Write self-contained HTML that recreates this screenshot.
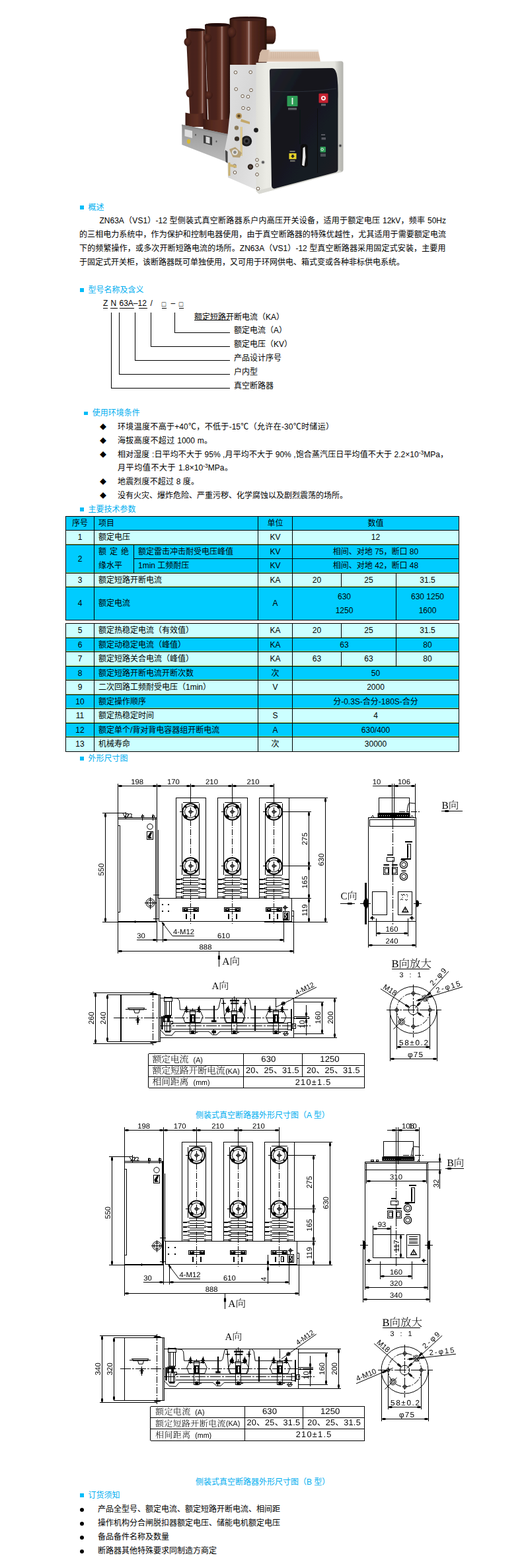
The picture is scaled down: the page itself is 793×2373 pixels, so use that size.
<!DOCTYPE html>
<html lang="zh-CN"><head><meta charset="utf-8"><title>ZN63A（VS1）-12 型侧装式真空断路器</title>
<style>
*{margin:0;padding:0;box-sizing:border-box}
html,body{width:793px;height:2373px;background:#fff;overflow:hidden}
body{position:relative;font-family:"Liberation Sans","Noto Sans CJK SC",sans-serif;font-size:12px;color:#000;line-height:20px}
.t{position:absolute;white-space:nowrap;height:20px;line-height:20px}
.h{color:#00aeef}
.sq{position:absolute;width:5.5px;height:5.5px;background:#00bcf8}
.c{position:absolute;text-align:center;white-space:nowrap}
.cell{position:absolute;border:1px solid #000;white-space:nowrap;overflow:hidden;text-align:center}
.g{box-shadow:inset 0 -1px 0 rgba(150,210,90,.85)}
.b1{background:#00ccff}
.b2{background:#ccffff}
svg{position:absolute;left:0;top:0;overflow:visible}
sup{font-size:8.5px;line-height:0;vertical-align:4.5px}
</style></head>
<body>
<div class="sq" style="left:121.0px;top:311.0px"></div>
<div class="t h" style="left:133.5px;top:303.5px;">概述</div>
<div class="t " style="left:150.5px;top:323.5px;width:524.5px;text-align:justify;text-align-last:justify;">ZN63A（VS1）-12 型侧装式真空断路器系户内高压开关设备，适用于额定电压 12kV，频率 50Hz</div>
<div class="t " style="left:120px;top:344.5px;width:555px;text-align:justify;text-align-last:justify;">的三相电力系统中，作为保护和控制电器使用，由于真空断路器的特殊优越性，尤其适用于需要额定电流</div>
<div class="t " style="left:120px;top:365.5px;width:554.5px;text-align:justify;text-align-last:justify;">下的频繁操作，或多次开断短路电流的场所。ZN63A（VS1）-12 型真空断路器采用固定式安装，主要用</div>
<div class="t " style="left:120px;top:386.5px;">于固定式开关柜，该断路器既可单独使用，又可用于环网供电、箱式变或各种非标供电系统。</div>
<div class="sq" style="left:121.0px;top:436.0px"></div>
<div class="t h" style="left:133.5px;top:428.5px;">型号名称及含义</div>
<div class="sq" style="left:127.2px;top:622.5px"></div>
<div class="t h" style="left:139.7px;top:615px;">使用环境条件</div>
<div class="t " style="left:151px;top:636.8px;font-size:10px">◆</div>
<div class="t " style="left:178px;top:636px;width:327px;text-align:justify;text-align-last:justify;">环境温度不高于+40℃，不低于-15℃（允许在-30℃时储运）</div>
<div class="t " style="left:151px;top:657.8px;font-size:10px">◆</div>
<div class="t " style="left:178px;top:657px;width:143px;text-align:justify;text-align-last:justify;">海拔高度不超过 1000 m。</div>
<div class="t " style="left:151px;top:678.8px;font-size:10px">◆</div>
<div class="t " style="left:178px;top:678px;width:500px;text-align:justify;text-align-last:justify;">相对湿度 :日平均不大于 95% ,月平均不大于 90% ,饱合蒸汽压日平均值不大于 2.2×10<sup>-3</sup>MPa，</div>
<div class="t " style="left:178px;top:698px;width:174px;text-align:justify;text-align-last:justify;">月平均值不大于 1.8×10<sup>-3</sup>MPa。</div>
<div class="t " style="left:151px;top:719.8px;font-size:10px">◆</div>
<div class="t " style="left:178px;top:719px;width:123px;text-align:justify;text-align-last:justify;">地震烈度不超过 8 度。</div>
<div class="t " style="left:151px;top:740.8px;font-size:10px">◆</div>
<div class="t " style="left:178px;top:740px;">没有火灾、爆炸危险、严重污秽、化学腐蚀以及剧烈震荡的场所。</div>
<div class="sq" style="left:121.0px;top:768.0px"></div>
<div class="t h" style="left:133.5px;top:760.5px;">主要技术参数</div>
<div class="sq" style="left:121.0px;top:1145.0px"></div>
<div class="t h" style="left:133.5px;top:1137.5px;">外形尺寸图</div>
<div class="t h" style="left:296px;top:1678px;">侧装式真空断路器外形尺寸图（A 型）</div>
<div class="t h" style="left:296px;top:2233px;">侧装式真空断路器外形尺寸图（B 型）</div>
<div class="sq" style="left:121.0px;top:2260.0px"></div>
<div class="t h" style="left:133.5px;top:2252.5px;">订货须知</div>
<div style="position:absolute;left:121px;top:2281.5px;width:6px;height:6px;border-radius:50%;background:#000"></div>
<div class="t " style="left:148px;top:2274px;">产品全型号、额定电流、额定短路开断电流、相间距</div>
<div style="position:absolute;left:121px;top:2302.5px;width:6px;height:6px;border-radius:50%;background:#000"></div>
<div class="t " style="left:148px;top:2295px;">操作机构分合闸脱扣器额定电压、储能电机额定电压</div>
<div style="position:absolute;left:121px;top:2323.5px;width:6px;height:6px;border-radius:50%;background:#000"></div>
<div class="t " style="left:148px;top:2316px;">备品备件名称及数量</div>
<div style="position:absolute;left:121px;top:2344.5px;width:6px;height:6px;border-radius:50%;background:#000"></div>
<div class="t " style="left:148px;top:2337px;">断路器其他特殊要求同制造方商定</div>
<div class="cell b1" style="left:99px;top:781px;width:44px;height:22px;line-height:20px;">序号</div>
<div class="cell b1" style="left:142px;top:781px;width:249px;height:22px;line-height:20px;text-align:left;padding-left:6px;">项目</div>
<div class="cell b1" style="left:390px;top:781px;width:53px;height:22px;line-height:20px;">单位</div>
<div class="cell b1" style="left:442px;top:781px;width:253px;height:22px;line-height:20px;">数值</div>
<div class="cell b2 g" style="left:99px;top:802px;width:44px;height:23px;line-height:21px;">1</div>
<div class="cell b2 g" style="left:142px;top:802px;width:249px;height:23px;line-height:21px;text-align:left;padding-left:6px;">额定电压</div>
<div class="cell b2 g" style="left:390px;top:802px;width:53px;height:23px;line-height:21px;">KV</div>
<div class="cell b2 g" style="left:442px;top:802px;width:253px;height:23px;line-height:21px;">12</div>
<div class="cell b1 g" style="left:99px;top:824px;width:44px;height:44px;line-height:42px;">2</div>
<div class="cell b1 g" style="left:142px;top:824px;width:61px;height:44px;line-height:42px;text-align:left;padding-left:6px;line-height:21px;"><span style="letter-spacing:5px">额定绝</span><br>缘水平</div>
<div class="cell b1" style="left:202px;top:824px;width:189px;height:22px;line-height:20px;text-align:left;padding-left:6px;">额定雷击冲击耐受电压峰值</div>
<div class="cell b1 g" style="left:202px;top:845px;width:189px;height:23px;line-height:21px;text-align:left;padding-left:6px;">1min 工频耐压</div>
<div class="cell b1" style="left:390px;top:824px;width:53px;height:22px;line-height:20px;">KV</div>
<div class="cell b1 g" style="left:390px;top:845px;width:53px;height:23px;line-height:21px;">KV</div>
<div class="cell b1" style="left:442px;top:824px;width:253px;height:22px;line-height:20px;">相间、对地 75，断口 80</div>
<div class="cell b1 g" style="left:442px;top:845px;width:253px;height:23px;line-height:21px;">相间、对地 42，断口 48</div>
<div class="cell b2 g" style="left:99px;top:867px;width:44px;height:22px;line-height:20px;">3</div>
<div class="cell b2 g" style="left:142px;top:867px;width:249px;height:22px;line-height:20px;text-align:left;padding-left:6px;">额定短路开断电流</div>
<div class="cell b2 g" style="left:390px;top:867px;width:53px;height:22px;line-height:20px;">KA</div>
<div class="cell b2 g" style="left:442px;top:867px;width:75px;height:22px;line-height:20px;">20</div>
<div class="cell b2 g" style="left:516px;top:867px;width:84px;height:22px;line-height:20px;">25</div>
<div class="cell b2 g" style="left:599px;top:867px;width:96px;height:22px;line-height:20px;">31.5</div>
<div class="cell b1" style="left:99px;top:888px;width:44px;height:51px;line-height:49px;">4</div>
<div class="cell b1" style="left:142px;top:888px;width:249px;height:51px;line-height:49px;text-align:left;padding-left:6px;">额定电流</div>
<div class="cell b1" style="left:390px;top:888px;width:53px;height:51px;line-height:49px;">A</div>
<div class="cell b1" style="left:442px;top:888px;width:158px;height:51px;line-height:49px;line-height:21px;padding-top:4px;">630<br>1250</div>
<div class="cell b1" style="left:599px;top:888px;width:96px;height:51px;line-height:49px;line-height:21px;padding-top:4px;">630 1250<br>1600</div>
<div class="cell b2 g" style="left:99px;top:943px;width:44px;height:23px;line-height:21px;">5</div>
<div class="cell b2 g" style="left:142px;top:943px;width:249px;height:23px;line-height:21px;text-align:left;padding-left:6px;">额定热稳定电流（有效值）</div>
<div class="cell b2 g" style="left:390px;top:943px;width:53px;height:23px;line-height:21px;">KA</div>
<div class="cell b2 g" style="left:442px;top:943px;width:75px;height:23px;line-height:21px;">20</div>
<div class="cell b2 g" style="left:516px;top:943px;width:84px;height:23px;line-height:21px;">25</div>
<div class="cell b2 g" style="left:599px;top:943px;width:96px;height:23px;line-height:21px;">31.5</div>
<div class="cell b1 g" style="left:99px;top:965px;width:44px;height:22px;line-height:20px;">6</div>
<div class="cell b1 g" style="left:142px;top:965px;width:249px;height:22px;line-height:20px;text-align:left;padding-left:6px;">额定动稳定电流（峰值）</div>
<div class="cell b1 g" style="left:390px;top:965px;width:53px;height:22px;line-height:20px;">KA</div>
<div class="cell b1 g" style="left:442px;top:965px;width:158px;height:22px;line-height:20px;">63</div>
<div class="cell b1 g" style="left:599px;top:965px;width:96px;height:22px;line-height:20px;">80</div>
<div class="cell b2 g" style="left:99px;top:986px;width:44px;height:23px;line-height:21px;">7</div>
<div class="cell b2 g" style="left:142px;top:986px;width:249px;height:23px;line-height:21px;text-align:left;padding-left:6px;">额定短路关合电流（峰值）</div>
<div class="cell b2 g" style="left:390px;top:986px;width:53px;height:23px;line-height:21px;">KA</div>
<div class="cell b2 g" style="left:442px;top:986px;width:75px;height:23px;line-height:21px;">63</div>
<div class="cell b2 g" style="left:516px;top:986px;width:84px;height:23px;line-height:21px;">63</div>
<div class="cell b2 g" style="left:599px;top:986px;width:96px;height:23px;line-height:21px;">80</div>
<div class="cell b1 g" style="left:99px;top:1008px;width:44px;height:22px;line-height:20px;">8</div>
<div class="cell b1 g" style="left:142px;top:1008px;width:249px;height:22px;line-height:20px;text-align:left;padding-left:6px;">额定短路开断电流开断次数</div>
<div class="cell b1 g" style="left:390px;top:1008px;width:53px;height:22px;line-height:20px;">次</div>
<div class="cell b1 g" style="left:442px;top:1008px;width:253px;height:22px;line-height:20px;">50</div>
<div class="cell b2 g" style="left:99px;top:1029px;width:44px;height:23px;line-height:21px;">9</div>
<div class="cell b2 g" style="left:142px;top:1029px;width:249px;height:23px;line-height:21px;text-align:left;padding-left:6px;">二次回路工频耐受电压（1min）</div>
<div class="cell b2 g" style="left:390px;top:1029px;width:53px;height:23px;line-height:21px;">V</div>
<div class="cell b2 g" style="left:442px;top:1029px;width:253px;height:23px;line-height:21px;">2000</div>
<div class="cell b1 g" style="left:99px;top:1051px;width:44px;height:22px;line-height:20px;">10</div>
<div class="cell b1 g" style="left:142px;top:1051px;width:249px;height:22px;line-height:20px;text-align:left;padding-left:6px;">额定操作顺序</div>
<div class="cell b1 g" style="left:390px;top:1051px;width:53px;height:22px;line-height:20px;"></div>
<div class="cell b1 g" style="left:442px;top:1051px;width:253px;height:22px;line-height:20px;">分-0.3S-合分-180S-合分</div>
<div class="cell b2 g" style="left:99px;top:1072px;width:44px;height:23px;line-height:21px;">11</div>
<div class="cell b2 g" style="left:142px;top:1072px;width:249px;height:23px;line-height:21px;text-align:left;padding-left:6px;">额定热稳定时间</div>
<div class="cell b2 g" style="left:390px;top:1072px;width:53px;height:23px;line-height:21px;">S</div>
<div class="cell b2 g" style="left:442px;top:1072px;width:253px;height:23px;line-height:21px;">4</div>
<div class="cell b1 g" style="left:99px;top:1094px;width:44px;height:22px;line-height:20px;">12</div>
<div class="cell b1 g" style="left:142px;top:1094px;width:249px;height:22px;line-height:20px;text-align:left;padding-left:6px;">额定单个/背对背电容器组开断电流</div>
<div class="cell b1 g" style="left:390px;top:1094px;width:53px;height:22px;line-height:20px;">A</div>
<div class="cell b1 g" style="left:442px;top:1094px;width:253px;height:22px;line-height:20px;">630/400</div>
<div class="cell b2" style="left:99px;top:1115px;width:44px;height:23px;line-height:21px;">13</div>
<div class="cell b2" style="left:142px;top:1115px;width:249px;height:23px;line-height:21px;text-align:left;padding-left:6px;">机械寿命</div>
<div class="cell b2" style="left:390px;top:1115px;width:53px;height:23px;line-height:21px;">次</div>
<div class="cell b2" style="left:442px;top:1115px;width:253px;height:23px;line-height:21px;">30000</div>
<svg width="793" height="2373" viewBox="0 0 793 2373" style="pointer-events:none">
<g fill="none" stroke="#000" stroke-width="1" shape-rendering="crispEdges">
<path d="M156 466.5H163"/>
<path d="M167 466.5H177.5"/>
<path d="M180.5 466.5H203"/>
<path d="M209.5 466.5H222.5"/>
<path d="M244.5 466.5H252"/>
<path d="M270.5 466.5H278"/>
<path d="M168.5 473V587.5H347.5"/>
<path d="M180.5 473V566.5H347.5"/>
<path d="M204.5 473V545.5H347.5"/>
<path d="M228.5 473V524.5H347.5"/>
<path d="M264.5 473V503.5H347.5"/>
<path d="M294 484.5H347.5"/>
</g></svg>
<div class="t" style="left:244.8px;top:449.8px;font-size:10.5px;font-weight:700;">□</div>
<div class="t" style="left:270.8px;top:449.8px;font-size:10.5px;font-weight:700;">□</div>
<div class="t" style="left:156px;top:449px;">Z</div>
<div class="t" style="left:167.5px;top:449px;">N</div>
<div class="t" style="left:180.5px;top:449px;">63A–12</div>
<div class="t" style="left:227.5px;top:449px;">/</div>
<div class="t" style="left:258.5px;top:449px;">–</div>
<div class="t" style="left:294px;top:470px;">额定短路开断电流（KA）</div>
<div class="t" style="left:354px;top:490px;">额定电流（A）</div>
<div class="t" style="left:354px;top:510.5px;">额定电压（KV）</div>
<div class="t" style="left:354px;top:531.5px;">产品设计序号</div>
<div class="t" style="left:354px;top:552.5px;">户内型</div>
<div class="t" style="left:354px;top:573.5px;">真空断路器</div>
<svg width="793" height="2373" viewBox="0 0 793 2373">
<path fill="none" stroke="#000" stroke-width="1" shape-rendering="crispEdges" d="M592.5 1466.5H650M621.5 1503.5H629.5M625.5 1499.3V1507.3M621.5 1553.5H629.5M625.5 1549.7V1557.7M596.3 1528.5H604.3M600.5 1524.5V1532.5M646.7 1528.5H654.7M650.5 1524.5V1532.5M600.5 1531.5V1588.1M650.5 1531.5V1588.1M590.5 1528.5V1605.8M661.5 1528.5V1605.8M600.3 1584.5H650.7M590 1602.5H661M578.5 2009.5H636M608.5 2048.5H616.5M612.5 2044.3V2052.3M608.5 2098.5H616.5M612.5 2094.7V2102.7M583.3 2073.5H591.3M587.5 2069.5V2077.5M633.7 2073.5H641.7M637.5 2069.5V2077.5M587.5 2076.5V2133.3M637.5 2076.5V2133.3M577.5 2073.5V2151M648.5 2073.5V2151M587.3 2129.5H637.7M577 2147.5H648M224.5 1594.5H551.5M224.5 1612.5H551.5M224.5 1629.5H551.5M224.5 1646.5H551.5M224.5 1594.5V1646M551.5 1594.5V1646M368.5 1594.5V1646M457.5 1594.5V1629M227.5 2128.5H552M227.5 2145.5H552M227.5 2162.5H552M227.5 2180.5H552M227.5 2128.5V2180M551.5 2128.5V2180M370.5 2128.5V2180M458.5 2128.5V2162.5M178.5 1185.5V1442.5M237.5 1185.5V1425.5M178.5 1189.5H237.5M237.5 1189.5H288.5M288.5 1189.5H351.5M351.5 1189.5H414.5M288.5 1185.5V1215M351.5 1185.5V1215M414.5 1185.5V1215M266.5 1207.5H311.5V1359.5H266.5ZM276.5 1214.5H300.5M301.5 1215.5V1323.5M300.5 1324.5H276.5M275.5 1323.5V1215.5M271.5 1228.5H277.5M288.5 1221.5V1235.5M284.5 1228.5H292.5M271.5 1310.5H277.5M288.5 1303.5V1317.5M284.5 1310.5H292.5M267 1330.5H273L279 1328.5H298.5L304.5 1330.5H310.5M273 1330.5L279 1332.5H298.5L304.5 1330.5M267 1331.5H273M304.5 1331.5H310.5M267 1337.5H273L279 1335.5H298.5L304.5 1337.5H310.5M273 1337.5L279 1339.5H298.5L304.5 1337.5M267 1338.5H273M304.5 1338.5H310.5M267 1344.5H273L279 1342.5H298.5L304.5 1344.5H310.5M273 1344.5L279 1346.5H298.5L304.5 1344.5M267 1345.5H273M304.5 1345.5H310.5M267 1350.5H273L279 1348.5H298.5L304.5 1350.5H310.5M273 1350.5L279 1352.5H298.5L304.5 1350.5M267 1357.5H273L279 1355.5H298.5L304.5 1357.5H310.5M273 1357.5L279 1359.5H298.5L304.5 1357.5M276.5 1373.5H300.5V1379.5H276.5ZM284.5 1376.5H292.5M329.5 1207.5H374.5V1359.5H329.5ZM339.5 1214.5H363.5M364.5 1215.5V1323.5M363.5 1324.5H339.5M338.5 1323.5V1215.5M334.5 1228.5H340.5M351.5 1221.5V1235.5M347.5 1228.5H355.5M334.5 1310.5H340.5M351.5 1303.5V1317.5M347.5 1310.5H355.5M330 1330.5H336L342 1328.5H361.5L367.5 1330.5H373.5M336 1330.5L342 1332.5H361.5L367.5 1330.5M330 1331.5H336M367.5 1331.5H373.5M330 1337.5H336L342 1335.5H361.5L367.5 1337.5H373.5M336 1337.5L342 1339.5H361.5L367.5 1337.5M330 1338.5H336M367.5 1338.5H373.5M330 1344.5H336L342 1342.5H361.5L367.5 1344.5H373.5M336 1344.5L342 1346.5H361.5L367.5 1344.5M330 1345.5H336M367.5 1345.5H373.5M330 1350.5H336L342 1348.5H361.5L367.5 1350.5H373.5M336 1350.5L342 1352.5H361.5L367.5 1350.5M330 1357.5H336L342 1355.5H361.5L367.5 1357.5H373.5M336 1357.5L342 1359.5H361.5L367.5 1357.5M339.5 1373.5H363.5V1379.5H339.5ZM347.5 1376.5H355.5M392.5 1207.5H437.5V1359.5H392.5ZM402.5 1214.5H426.5M427.5 1215.5V1323.5M426.5 1324.5H402.5M401.5 1323.5V1215.5M397.5 1228.5H403.5M414.5 1221.5V1235.5M410.5 1228.5H418.5M397.5 1310.5H403.5M414.5 1303.5V1317.5M410.5 1310.5H418.5M393 1330.5H399L405 1328.5H424.5L430.5 1330.5H436.5M399 1330.5L405 1332.5H424.5L430.5 1330.5M393 1331.5H399M430.5 1331.5H436.5M393 1337.5H399L405 1335.5H424.5L430.5 1337.5H436.5M399 1337.5L405 1339.5H424.5L430.5 1337.5M393 1338.5H399M430.5 1338.5H436.5M393 1344.5H399L405 1342.5H424.5L430.5 1344.5H436.5M399 1344.5L405 1346.5H424.5L430.5 1344.5M393 1345.5H399M430.5 1345.5H436.5M393 1350.5H399L405 1348.5H424.5L430.5 1350.5H436.5M399 1350.5L405 1352.5H424.5L430.5 1350.5M393 1357.5H399L405 1355.5H424.5L430.5 1357.5H436.5M399 1357.5L405 1359.5H424.5L430.5 1357.5M402.5 1373.5H426.5V1379.5H402.5ZM410.5 1376.5H418.5M178.5 1237.5H237.5M178.5 1239.5H237.5M155 1230.5H190.5M181.5 1249.5V1380.5M178.5 1249.5H181.5M178.5 1380.5H181.5M235.5 1238V1395M239.5 1256V1360M222.5 1258.5H231.5V1270.5H222.5ZM215.5 1232V1241.5M214.5 1234.5H217.5V1237.5H214.5ZM231.5 1232V1241.5M230.5 1234.5H233.5V1237.5H230.5ZM190.5 1228.5V1239M155 1395.5H238M178 1394.5H238M400 1395.5H496M204.5 1393V1397M218.5 1366.5H236.5M227.5 1357.5V1375.5M232 1354.5H241M232 1390.5H241M240.5 1359.5H441.5V1394.5H240.5ZM245.5 1368.5H246.5V1369.5H245.5ZM254.5 1368.5H255.5V1369.5H254.5ZM245.5 1378.5H246.5V1379.5H245.5ZM254.5 1378.5H255.5V1379.5H254.5ZM428.5 1379.5H437.5V1392.5H428.5ZM428 1373.5H436M431.5 1370V1379M441.5 1378.5H444.5V1386.5H441.5ZM444.5 1378V1442.5M438 1207.5H496M427 1228.5H470.5M427 1310.5H470.5M441.5 1359.5H470.5M467.5 1228.5V1310.5M467.5 1310.5V1359.5M467.5 1359.5V1395.5M492.5 1207.5V1395.5M159.5 1230.5V1395.5M246.5 1395.5V1425.5M429.5 1390V1425.5M207 1422.5H429.5M178.5 1439.5H444.8M261 1416.5H294M331.5 1439.5V1463M162.5 1505.5H242.5V1576.5H162.5ZM240.5 1505.5V1576M182.5 1505.5V1576M183.5 1505.5V1576M140.5 1502.5H231.5M140.5 1579.5H231.5M144.5 1502.5V1579M162.5 1505.5V1576M192.5 1525.5H218.5M192.5 1527.5H218.5M189.5 1527.5H221.5M208.5 1537V1551M207.5 1540.5H209.5V1547.5H207.5ZM205 1543.5H211.5M242.5 1510.5H509.5M242.5 1570.5H509.5M444.5 1510V1570.5M259.5 1548.5H436M259.5 1557.5H436M248.5 1509.5H260.5V1515.5H248.5ZM249.5 1515.5H259.5V1536.5H249.5ZM251.5 1515V1536M256.5 1515V1536M249.5 1545.5H258.5V1560.5H249.5ZM252.5 1547V1560M256.5 1547V1560M258.5 1545.5H261.5V1549.5H258.5ZM287.5 1529.5H295.5V1564.5H287.5ZM291.5 1525.5V1529.5M279 1527.5H285M279 1530.5H285M282.5 1521.5V1532.5M298 1527.5H304M298 1530.5H304M301.5 1521.5V1532.5M295 1562.5H298.5M350.5 1529.5H358.5V1564.5H350.5ZM354.5 1525.5V1529.5M342 1527.5H348M342 1530.5H348M345.5 1521.5V1532.5M361 1527.5H367M361 1530.5H367M364.5 1521.5V1532.5M358 1562.5H361.5M413.5 1529.5H421.5V1564.5H413.5ZM417.5 1525.5V1529.5M405 1527.5H411M405 1530.5H411M408.5 1521.5V1532.5M424 1527.5H430M424 1530.5H430M427.5 1521.5V1532.5M421 1562.5H424.5M335 1518.5H342M338.5 1514V1523M367 1518.5H374M370.5 1514V1523M351.5 1511V1530M357.5 1511V1530M354.5 1507.5V1513M323.5 1557V1566M417.5 1510V1525M435.5 1547.5H440.5V1558.5H435.5ZM442.5 1549.5H447.5V1556.5H442.5ZM428 1564.5H437M506.5 1510V1570.5M444.8 1516.5H490M444.8 1564.5H490M487.5 1516.5V1564M463.5 1520.5V1567M444.8 1538.5H467.5M444.8 1541.5H467.5M172.5 2024.5H248.5V2119.5H172.5ZM246.5 2024.5V2119M188.5 2024.5V2119M150.5 2021.5H237.5M150.5 2122.5H237.5M154.5 2021.5V2122M172.5 2024.5V2119M198.5 2056.5H224.5M198.5 2058.5H224.5M195.5 2058.5H227.5M214.5 2068.3V2082.3M213.5 2071.5H215.5V2078.5H213.5ZM211 2074.5H217.5M248.5 2041.5H515.7M248.5 2101.5H515.7M451.5 2041.3V2101.8M265.7 2079.5H442.2M265.7 2088.5H442.2M254.5 2040.5H266.5V2046.5H254.5ZM255.5 2046.5H265.5V2067.5H255.5ZM257.5 2046.3V2067.3M262.5 2046.3V2067.3M255.5 2076.5H264.5V2091.5H255.5ZM258.5 2078.3V2091.3M262.5 2078.3V2091.3M264.5 2076.5H267.5V2080.5H264.5ZM293.5 2060.5H301.5V2095.5H293.5ZM297.5 2056.8V2060.8M285.2 2058.5H291.2M285.2 2061.5H291.2M288.5 2052.8V2063.8M304.2 2058.5H310.2M304.2 2061.5H310.2M307.5 2052.8V2063.8M301.2 2093.5H304.7M356.5 2060.5H364.5V2095.5H356.5ZM360.5 2056.8V2060.8M348.2 2058.5H354.2M348.2 2061.5H354.2M351.5 2052.8V2063.8M367.2 2058.5H373.2M367.2 2061.5H373.2M370.5 2052.8V2063.8M364.2 2093.5H367.7M419.5 2060.5H427.5V2095.5H419.5ZM423.5 2056.8V2060.8M411.2 2058.5H417.2M411.2 2061.5H417.2M414.5 2052.8V2063.8M430.2 2058.5H436.2M430.2 2061.5H436.2M433.5 2052.8V2063.8M427.2 2093.5H430.7M341.2 2049.5H348.2M344.5 2045.3V2054.3M373.2 2049.5H380.2M376.5 2045.3V2054.3M357.5 2042.3V2061.3M363.5 2042.3V2061.3M360.5 2038.8V2044.3M329.5 2088.3V2097.3M423.5 2041.3V2056.3M441.5 2078.5H446.5V2089.5H441.5ZM448.5 2080.5H453.5V2087.5H448.5ZM434 2095.5H443M512.5 2041.3V2101.8M451 2047.5H496.2M451 2095.5H496.2M493.5 2047.8V2095.3M469.5 2051.8V2098.3M451 2069.5H473.7M451 2072.5H473.7M564 1189.5H628.5M593.5 1185.5V1241M596.5 1185.5V1241M628.5 1185.5V1238M573.5 1207.5H619.5V1230.5H573.5ZM557.5 1237.5H629.5V1394.5H557.5ZM557.5 1394V1433.5M629.5 1394V1433.5M559.5 1240.5H627.5V1250.5H559.5ZM616.5 1277.5H621.5V1300.5H616.5ZM617.5 1279V1298M585.5 1297.5H596.5V1303.5H585.5ZM580.5 1312.5H588.5V1323.5H580.5ZM582.5 1314.5H587.5V1321.5H582.5ZM593.5 1312.5H601.5V1323.5H593.5ZM594.5 1314.5H599.5V1321.5H594.5ZM563.5 1349.5H585.5V1384.5H563.5ZM602.5 1349.5H623.5V1384.5H602.5ZM560 1389.5H566.5M563.5 1386V1392.5M620 1389.5H626.5M623.5 1386V1392.5M552.5 1336.5H554.5V1398.5H552.5ZM553.5 1336.5V1398.5M545 1367.5H561M626 1367.5H638M569.5 1390V1417M617.5 1390V1417M569.5 1412.5H617.5M557.5 1430.5H629.5M515 1367.5H537M667.5 1227.5H699.5M585.5 1710.5H634.5M599.5 1705.5V1762M602.5 1705.5V1762M634.5 1705.5V1758M580.5 1727.5H625.5V1750.5H580.5ZM561.5 1755.5H565.5V1757.5H561.5ZM569.5 1755.5H572.5V1757.5H569.5ZM552.5 1758.5H668M552.5 1760.5H648M552.5 1770.5H668M552.5 1758V1913.5M554.5 1760V1790.5M647.5 1758V1913.5M645.5 1760V1790.5M552.5 1913.5H648M554.5 1787.5H645.5M665.5 1746V1798.5M673.5 1768.5H701.5M622.5 1797.5H627.5V1820.5H622.5ZM623.5 1799V1818M591.5 1817.5H602.5V1823.5H591.5ZM586.5 1832.5H594.5V1843.5H586.5ZM588.5 1834.5H593.5V1841.5H588.5ZM599.5 1832.5H607.5V1843.5H599.5ZM600.5 1834.5H605.5V1841.5H600.5ZM564.5 1868.5H591.5V1903.5H564.5ZM564.5 1855V1868M591.5 1855V1868M564.5 1859.5H591.5M591.5 1868.5H612M591.5 1903.5H612M606.5 1868.5V1903M615.5 1868.5H635.5V1903.5H615.5ZM619 1871.5H632M619 1874.5H632M619 1876.5H632M619 1879.5H632M619 1881.5H632M617 1884.5H634M555 1907.5H561.5M558.5 1904.5V1911M638 1907.5H644.5M641.5 1904.5V1911M549.5 1877V1970.5M650.5 1877V1970.5M545 1884.5H557M643 1884.5H655M575.5 1909V1935.5M623.5 1909V1935.5M575.5 1931.5H623.5M552.5 1913V1952M647.5 1913V1952M552.5 1948.5H647.5M549.5 1966.5H650.5M188.5 1706.1V1960.84M247.5 1706.1V1943.96M188.5 1710.5H247.5M247.5 1710.5H297.96M297.96 1710.5H360.29M360.29 1710.5H422.62M297.5 1706.1V1735.04M360.5 1706.1V1735.04M422.5 1706.1V1735.04M275.5 1728.5H320.5V1878.5H275.5ZM285.5 1734.5H310.5M311.5 1735.5V1842.5M310.5 1843.5H285.5M284.5 1842.5V1735.5M280.5 1748.5H286.5M297.5 1741.5V1755.5M293.5 1748.5H301.5M280.5 1829.5H286.5M297.5 1822.5V1836.5M293.5 1829.5H301.5M276.69 1849.5H282.69L288.69 1847.5H307.73L313.73 1849.5H319.73M282.69 1849.5L288.69 1851.5H307.73L313.73 1849.5M276.69 1850.5H282.69M313.73 1850.5H319.73M276.69 1856.5H282.69L288.69 1854.5H307.73L313.73 1856.5H319.73M282.69 1856.5L288.69 1858.5H307.73L313.73 1856.5M276.69 1857.5H282.69M313.73 1857.5H319.73M276.69 1863.5H282.69L288.69 1861.5H307.73L313.73 1863.5H319.73M282.69 1863.5L288.69 1865.5H307.73L313.73 1863.5M276.69 1864.5H282.69M313.73 1864.5H319.73M276.69 1869.5H282.69L288.69 1867.5H307.73L313.73 1869.5H319.73M282.69 1869.5L288.69 1871.5H307.73L313.73 1869.5M276.69 1876.5H282.69L288.69 1874.5H307.73L313.73 1876.5H319.73M282.69 1876.5L288.69 1878.5H307.73L313.73 1876.5M285.5 1892.5H309.5V1898.5H285.5ZM293.96 1895.5H301.96M338.5 1728.5H382.5V1878.5H338.5ZM348.5 1734.5H372.5M373.5 1735.5V1842.5M372.5 1843.5H348.5M347.5 1842.5V1735.5M343.5 1748.5H349.5M360.5 1741.5V1755.5M356.5 1748.5H364.5M343.5 1829.5H349.5M360.5 1822.5V1836.5M356.5 1829.5H364.5M339.02 1849.5H345.02L351.02 1847.5H370.06L376.06 1849.5H382.06M345.02 1849.5L351.02 1851.5H370.06L376.06 1849.5M339.02 1850.5H345.02M376.06 1850.5H382.06M339.02 1856.5H345.02L351.02 1854.5H370.06L376.06 1856.5H382.06M345.02 1856.5L351.02 1858.5H370.06L376.06 1856.5M339.02 1857.5H345.02M376.06 1857.5H382.06M339.02 1863.5H345.02L351.02 1861.5H370.06L376.06 1863.5H382.06M345.02 1863.5L351.02 1865.5H370.06L376.06 1863.5M339.02 1864.5H345.02M376.06 1864.5H382.06M339.02 1869.5H345.02L351.02 1867.5H370.06L376.06 1869.5H382.06M345.02 1869.5L351.02 1871.5H370.06L376.06 1869.5M339.02 1876.5H345.02L351.02 1874.5H370.06L376.06 1876.5H382.06M345.02 1876.5L351.02 1878.5H370.06L376.06 1876.5M348.5 1892.5H372.5V1898.5H348.5ZM356.29 1895.5H364.29M400.5 1728.5H445.5V1878.5H400.5ZM410.5 1734.5H434.5M435.5 1735.5V1842.5M434.5 1843.5H410.5M409.5 1842.5V1735.5M405.5 1748.5H411.5M422.5 1741.5V1755.5M418.5 1748.5H426.5M405.5 1829.5H411.5M422.5 1822.5V1836.5M418.5 1829.5H426.5M401.35 1849.5H407.35L413.35 1847.5H432.39L438.39 1849.5H444.39M407.35 1849.5L413.35 1851.5H432.39L438.39 1849.5M401.35 1850.5H407.35M438.39 1850.5H444.39M401.35 1856.5H407.35L413.35 1854.5H432.39L438.39 1856.5H444.39M407.35 1856.5L413.35 1858.5H432.39L438.39 1856.5M401.35 1857.5H407.35M438.39 1857.5H444.39M401.35 1863.5H407.35L413.35 1861.5H432.39L438.39 1863.5H444.39M407.35 1863.5L413.35 1865.5H432.39L438.39 1863.5M401.35 1864.5H407.35M438.39 1864.5H444.39M401.35 1869.5H407.35L413.35 1867.5H432.39L438.39 1869.5H444.39M407.35 1869.5L413.35 1871.5H432.39L438.39 1869.5M401.35 1876.5H407.35L413.35 1874.5H432.39L438.39 1876.5H444.39M407.35 1876.5L413.35 1878.5H432.39L438.39 1876.5M410.5 1892.5H434.5V1898.5H410.5ZM418.62 1895.5H426.62M188.5 1757.5H247.5M188.5 1759.5H247.5M165 1750.5H200.5M191.5 1769.28V1899.3M188.5 1769.5H191.5M188.5 1899.5H191.5M245.5 1757.87V1913.69M246.5 1757.87V1911.71M249.5 1775.74V1878.96M232.5 1778.5H241.5V1790.5H232.5ZM225.5 1751.92V1761.34M224.5 1753.5H227.5V1756.5H224.5ZM241.5 1751.92V1761.34M240.5 1753.5H243.5V1756.5H240.5ZM200.5 1748.44V1758.86M165 1914.5H247.99M188 1913.5H247.99M408.28 1914.5H503.26M214.5 1911.71V1915.68M228.5 1885.5H246.5M237.5 1876.5V1894.5M242 1873.5H250.96M242 1909.5H250.96M250.5 1878.5H449.5V1913.5H250.5ZM254.5 1887.5H255.5V1888.5H254.5ZM264.5 1887.5H265.5V1888.5H264.5ZM254.5 1897.5H255.5V1898.5H254.5ZM264.5 1897.5H265.5V1898.5H264.5ZM435.5 1898.5H444.5V1910.5H435.5ZM435.94 1892.5H443.94M439.5 1888.88V1897.81M449.5 1896.5H452.5V1904.5H449.5ZM452.5 1896.82V1960.84M445.87 1728.5H503.26M434.99 1748.5H478.03M434.99 1829.5H478.03M449.34 1878.5H478.03M474.5 1748.44V1829.83M474.5 1829.83V1878.46M474.5 1878.46V1914.19M499.5 1728.1V1914.19M169.5 1750.43V1914.19M256.5 1914.19V1943.96M437.5 1908.73V1943.96M217 1940.5H437.46M188.5 1957.5H452.6M270.75 1935.5H303.4M340.5 1957.86V1981.18M405.5 1898.81V1943.47M425.5 1901.5H428.5V1909.5H425.5Z"/>
<path fill="none" stroke="#000" stroke-width="2" shape-rendering="crispEdges" d="M282 1383V1391M294 1383V1391M346 1383V1391M358 1383V1391M408 1383V1391M420 1383V1391M324 1521.5V1545M386 1521.5V1559.5M441 1527V1560M330 2052.8V2076.3M392 2052.8V2090.8M447 2058.3V2091.3M292 1901.78V1909.72M304 1901.78V1909.72M354 1901.78V1909.72M366 1901.78V1909.72M417 1901.78V1909.72M429 1901.78V1909.72"/>
<path fill="none" stroke="#000" stroke-width="1" d="M595.5 1557.5 L613.5 1540M576 1496.5 L619.45 1524.59M631.55 1532.41 L641.46 1538.82M628.2 1525.55 L679 1470M629.92 1514.74 L700 1493.5M582.5 2102.5 L600.5 2085M566.3 2033.4 L607.06 2068.78M617.94 2078.22 L626.85 2085.95M615.44 2070.79 L669.2 2021.3M616.4 2057.19 L690 2049.2M539 2094 L594.66 2070.37M186 1231l3 5.5l2.5-5l3 0l-2 5l3.5-5l3.5 0.5l-1.5 5.5M187 1237h14M245 1395.5 L261 1416.5M195 1525.5v2.5h23v-2.5M202.5 1528l1.5 5h6l1.5-5M262 1510.5L269 1511L271.5 1514.5L272.5 1528L329 1528L331 1525L334 1511.5L338 1510.5M375 1510.5L378 1514L380 1528L436 1528M243 1559L250 1566.5L260 1567L265 1561L316 1561L321.5 1566L328 1566L333 1561L436 1561M280 1531L303.5 1531L307 1538.5L303.5 1547.5L280 1547.5L276.5 1538.5ZM343 1531L366.5 1531L370 1538.5L366.5 1547.5L343 1547.5L339.5 1538.5ZM406 1531L429.5 1531L433 1538.5L429.5 1547.5L406 1547.5L402.5 1538.5ZM337.5 1510.5L340 1544L342.5 1548M372 1510.5L369.5 1544L367 1548M430.5 1567.5 L435 1561M417 1524.5 L479 1494M201 2056.8v2.5h23v-2.5M208.5 2059.3l1.5 5h6l1.5-5M268.2 2041.8L275.2 2042.3L277.7 2045.8L278.7 2059.3L335.2 2059.3L337.2 2056.3L340.2 2042.8L344.2 2041.8M381.2 2041.8L384.2 2045.3L386.2 2059.3L442.2 2059.3M249.2 2090.3L256.2 2097.8L266.2 2098.3L271.2 2092.3L322.2 2092.3L327.7 2097.3L334.2 2097.3L339.2 2092.3L442.2 2092.3M286.2 2062.3L309.7 2062.3L313.2 2069.8L309.7 2078.8L286.2 2078.8L282.7 2069.8ZM349.2 2062.3L372.7 2062.3L376.2 2069.8L372.7 2078.8L349.2 2078.8L345.7 2069.8ZM412.2 2062.3L435.7 2062.3L439.2 2069.8L435.7 2078.8L412.2 2078.8L408.7 2069.8ZM343.7 2041.8L346.2 2075.3L348.7 2079.3M378.2 2041.8L375.7 2075.3L373.2 2079.3M436.5 2098.5 L441 2092M425.8 2056.7 L478.7 2019M616 1228.5Q617 1216.5 619.5 1215L628.5 1216M562 1237 L564 1234 L566 1237M621.5 1237 L623.5 1234 L625.5 1237M607 1353l2 2.5l2-2.5l2 2.5M615 1353l2 2.5M606 1362l2-1.5l2 1.5M613 1361l2 1.5l2-1.5M609 1358h1M616 1357h1M622.8 1748.5Q623.8 1736.5 626.3 1735L635.3 1736M632 1758 L633.5 1755 L635 1758M196 1750.92l3 5.5l2.5-5l3 0l-2 5l3.5-5l3.5 0.5l-1.5 5.5M197 1756.92h14M254.92 1914.19 L270.75 1935.03"/>
<path fill="#000" d="M619.45 1524.59L616.96 1524.77L612.76 1522.05L614.39 1519.53L618.59 1522.25ZM631.55 1532.41L634.04 1532.23L638.24 1534.95L636.61 1537.47L632.41 1534.75ZM646.69 1506.99L646.94 1504.5L650.31 1500.81L652.52 1502.84L649.15 1506.53ZM630.9 1522.6L631.14 1520.11L634.52 1516.42L636.73 1518.44L633.36 1522.13ZM647.72 1509.35L649.2 1507.33L653.99 1505.88L654.86 1508.75L650.07 1510.2ZM638.92 1512.02L637.44 1514.03L632.65 1515.48L631.78 1512.61L636.57 1511.16ZM600.5 1584.5L602.5 1583L606.5 1583L606.5 1586L602.5 1586ZM650.5 1584.5L648.5 1586L644.5 1586L644.5 1583L648.5 1583ZM590.5 1602.5L592.5 1601L596.5 1601L596.5 1604L592.5 1604ZM661.5 1602.5L659.5 1604L655.5 1604L655.5 1601L659.5 1601ZM607.06 2068.78L604.57 2068.6L600.79 2065.32L602.76 2063.06L606.54 2066.34ZM617.94 2078.22L620.43 2078.4L624.21 2081.68L622.24 2083.94L618.46 2080.66ZM634 2052.29L634.45 2049.84L638.13 2046.45L640.16 2048.66L636.48 2052.04ZM618.39 2068.08L618.84 2065.62L622.52 2062.24L624.55 2064.44L620.87 2067.83ZM634.89 2055.18L636.72 2053.48L641.69 2052.94L642.01 2055.92L637.04 2056.46ZM625.75 2056.18L623.92 2057.88L618.95 2058.42L618.62 2055.44L623.6 2054.9ZM585 2074.48L583.74 2076.64L579.14 2078.59L577.97 2075.83L582.57 2073.88ZM587.5 2129.5L589.5 2128L593.5 2128L593.5 2131L589.5 2131ZM637.5 2129.5L635.5 2131L631.5 2131L631.5 2128L635.5 2128ZM577.5 2147.5L579.5 2146L583.5 2146L583.5 2149L579.5 2149ZM648.5 2147.5L646.5 2149L642.5 2149L642.5 2146L646.5 2146ZM178.5 1189.5L180.5 1188L184.5 1188L184.5 1191L180.5 1191ZM237.5 1189.5L235.5 1191L231.5 1191L231.5 1188L235.5 1188ZM237.5 1189.5L239.5 1188L243.5 1188L243.5 1191L239.5 1191ZM288.5 1189.5L286.5 1191L282.5 1191L282.5 1188L286.5 1188ZM288.5 1189.5L290.5 1188L294.5 1188L294.5 1191L290.5 1191ZM351.5 1189.5L349.5 1191L345.5 1191L345.5 1188L349.5 1188ZM351.5 1189.5L353.5 1188L357.5 1188L357.5 1191L353.5 1191ZM414.5 1189.5L412.5 1191L408.5 1191L408.5 1188L412.5 1188ZM277.5 1374.5H284.5V1379.5H277.5ZM292.5 1374.5H299.5V1379.5H292.5ZM340.5 1374.5H347.5V1379.5H340.5ZM355.5 1374.5H362.5V1379.5H355.5ZM403.5 1374.5H410.5V1379.5H403.5ZM418.5 1374.5H425.5V1379.5H418.5ZM223.5 1265.5L227.5 1259.5L230.5 1259.5L227.5 1266.5L230.5 1268.5L224.5 1269.5ZM430 1381H436V1392H430ZM467.5 1228.5L469 1230.5L469 1234.5L466 1234.5L466 1230.5ZM467.5 1310.5L466 1308.5L466 1304.5L469 1304.5L469 1308.5ZM467.5 1310.5L469 1312.5L469 1316.5L466 1316.5L466 1312.5ZM467.5 1359.5L466 1357.5L466 1353.5L469 1353.5L469 1357.5ZM467.5 1359.5L469 1361.5L469 1365.5L466 1365.5L466 1361.5ZM467.5 1395.5L466 1393.5L466 1389.5L469 1389.5L469 1393.5ZM492.5 1207.5L494 1209.5L494 1213.5L491 1213.5L491 1209.5ZM492.5 1395.5L491 1393.5L491 1389.5L494 1389.5L494 1393.5ZM159.5 1230.5L161 1232.5L161 1236.5L158 1236.5L158 1232.5ZM159.5 1395.5L158 1393.5L158 1389.5L161 1389.5L161 1393.5ZM237.5 1422.5L235.5 1424L231.5 1424L231.5 1421L235.5 1421ZM246.5 1422.5L248.5 1421L252.5 1421L252.5 1424L248.5 1424ZM429.5 1422.5L427.5 1424L423.5 1424L423.5 1421L427.5 1421ZM178.5 1439.5L180.5 1438L184.5 1438L184.5 1441L180.5 1441ZM444.5 1439.5L442.5 1441L438.5 1441L438.5 1438L442.5 1438ZM245 1395.5L247.25 1396.3L249.67 1399.48L247.6 1401.06L245.18 1397.88ZM331.5 1445L333.1 1447L333.1 1452L329.9 1452L329.9 1447ZM144.5 1502.5L146 1504.5L146 1508.5L143 1508.5L143 1504.5ZM144.5 1579.5L143 1577.5L143 1573.5L146 1573.5L146 1577.5ZM162.5 1505.5L164 1507.5L164 1511.5L161 1511.5L161 1507.5ZM162.5 1576.5L161 1574.5L161 1570.5L164 1570.5L164 1574.5ZM225.5 1505.5L228.5 1503H235.5L239.5 1505.5ZM225.5 1576L228.5 1578.5H235.5L239.5 1576ZM248 1508.5H250.5V1511H248ZM257.5 1508.5H260V1511H257.5ZM244 1538H246.5V1558H244ZM247 1537H259V1541H247ZM247 1541H249.5V1547H247ZM253 1541H257V1547H253ZM250 1560H258V1562.5H250ZM287.5 1535H295.5V1547.5H287.5ZM289 1559.5H294V1565H289ZM280.5 1524H283.5V1531H280.5ZM299.5 1524H302.5V1531H299.5ZM350.5 1535H358.5V1547.5H350.5ZM352 1559.5H357V1565H352ZM343.5 1524H346.5V1531H343.5ZM362.5 1524H365.5V1531H362.5ZM413.5 1535H421.5V1547.5H413.5ZM415 1559.5H420V1565H415ZM406.5 1524H409.5V1531H406.5ZM425.5 1524H428.5V1531H425.5ZM348 1513H362V1515.5H348ZM349 1517.5H361V1519.5H349ZM320 1544H327.5V1547H320ZM320.5 1559.5H327V1563.5H320.5ZM506.5 1510.5L508 1512.5L508 1516.5L505 1516.5L505 1512.5ZM506.5 1570.5L505 1568.5L505 1564.5L508 1564.5L508 1568.5ZM487.5 1516.5L489 1518.5L489 1522.5L486 1522.5L486 1518.5ZM487.5 1564.5L486 1562.5L486 1558.5L489 1558.5L489 1562.5ZM463.5 1538.5L462 1536.5L462 1532.5L465 1532.5L465 1536.5ZM463.5 1542L465 1544L465 1548L462 1548L462 1544ZM425.08 1520.53L426.21 1518.3L430.69 1516.09L432.02 1518.78L427.53 1520.99ZM154.5 2021.5L156 2023.5L156 2027.5L153 2027.5L153 2023.5ZM154.5 2122.5L153 2120.5L153 2116.5L156 2116.5L156 2120.5ZM172.5 2024.5L174 2026.5L174 2030.5L171 2030.5L171 2026.5ZM172.5 2119.5L171 2117.5L171 2113.5L174 2113.5L174 2117.5ZM231.5 2024.5L234.5 2022H241.5L245.5 2024.5ZM231.5 2119L234.5 2121.5H241.5L245.5 2119ZM254.2 2039.8H256.7V2042.3H254.2ZM263.7 2039.8H266.2V2042.3H263.7ZM250.2 2069.3H252.7V2089.3H250.2ZM253.2 2068.3H265.2V2072.3H253.2ZM253.2 2072.3H255.7V2078.3H253.2ZM259.2 2072.3H263.2V2078.3H259.2ZM256.2 2091.3H264.2V2093.8H256.2ZM293.7 2066.3H301.7V2078.8H293.7ZM295.2 2090.8H300.2V2096.3H295.2ZM286.7 2055.3H289.7V2062.3H286.7ZM305.7 2055.3H308.7V2062.3H305.7ZM356.7 2066.3H364.7V2078.8H356.7ZM358.2 2090.8H363.2V2096.3H358.2ZM349.7 2055.3H352.7V2062.3H349.7ZM368.7 2055.3H371.7V2062.3H368.7ZM419.7 2066.3H427.7V2078.8H419.7ZM421.2 2090.8H426.2V2096.3H421.2ZM412.7 2055.3H415.7V2062.3H412.7ZM431.7 2055.3H434.7V2062.3H431.7ZM354.2 2044.3H368.2V2046.8H354.2ZM355.2 2048.8H367.2V2050.8H355.2ZM326.2 2075.3H333.7V2078.3H326.2ZM326.7 2090.8H333.2V2094.8H326.7ZM512.5 2041.5L514 2043.5L514 2047.5L511 2047.5L511 2043.5ZM512.5 2101.5L511 2099.5L511 2095.5L514 2095.5L514 2099.5ZM493.5 2047.5L495 2049.5L495 2053.5L492 2053.5L492 2049.5ZM493.5 2095.5L492 2093.5L492 2089.5L495 2089.5L495 2093.5ZM469.5 2069.5L468 2067.5L468 2063.5L471 2063.5L471 2067.5ZM469.5 2073L471 2075L471 2079L468 2079L468 2075ZM433.13 2051.48L433.89 2049.09L437.96 2046.19L439.7 2048.64L435.63 2051.54ZM593.5 1189.5L591.5 1191L587.5 1191L587.5 1188L591.5 1188ZM596.5 1189.5L598.5 1188L602.5 1188L602.5 1191L598.5 1191ZM628.5 1189.5L626.5 1191L622.5 1191L622.5 1188L626.5 1188ZM571.5 1230.5H620.5V1237H571.5ZM613 1273H624V1275H613ZM607 1299H622V1301H607ZM586 1293H594V1294.8H586ZM580.5 1308H589V1310H580.5ZM593 1308H601.5V1310H593ZM606.5 1300.3H613.5V1302H606.5ZM607.5 1317.2H614.5V1318.8H607.5ZM613.25 1371.5L618.75 1381L607.75 1381ZM551 1362L555 1358.5L557.5 1363V1371L555 1375.5L551 1372L549.5 1367ZM630 1362.5H632.5L634 1365V1370L632.5 1372.5H630ZM569.5 1412.5L571.5 1411L575.5 1411L575.5 1414L571.5 1414ZM617.5 1412.5L615.5 1414L611.5 1414L611.5 1411L615.5 1411ZM557.5 1430.5L559.5 1429L563.5 1429L563.5 1432L559.5 1432ZM629.5 1430.5L627.5 1432L623.5 1432L623.5 1429L627.5 1429ZM534 1367.5L532 1369L526 1369L526 1366L532 1366ZM672 1227.5L674 1226L679 1226L679 1229L674 1229ZM599.5 1710.5L597.5 1712L593.5 1712L593.5 1709L597.5 1709ZM602.5 1710.5L604.5 1709L608.5 1709L608.5 1712L604.5 1712ZM634.5 1710.5L632.5 1712L628.5 1712L628.5 1709L632.5 1709ZM578.3 1750.5H627.3V1757H578.3ZM554.5 1787.5L556.5 1786L560.5 1786L560.5 1789L556.5 1789ZM645.5 1787.5L643.5 1789L639.5 1789L639.5 1786L643.5 1786ZM665.5 1758.5L664 1756.5L664 1752.5L667 1752.5L667 1756.5ZM665.5 1770.5L667 1772.5L667 1776.5L664 1776.5L664 1772.5ZM676 1768.5L678 1767L683 1767L683 1770L678 1770ZM619 1793H630V1795H619ZM613 1819H628V1821H613ZM592 1813H600V1814.8H592ZM586.5 1828H595V1830H586.5ZM599 1828H607.5V1830H599ZM612.5 1820.3H619.5V1822H612.5ZM613.5 1837.2H620.5V1838.8H613.5ZM586 1828.3H606V1830H586ZM564.5 1859.5L566.5 1858L570.5 1858L570.5 1861L566.5 1861ZM591.5 1859.5L589.5 1861L585.5 1861L585.5 1858L589.5 1858ZM606.5 1868.5L608 1870.5L608 1874.5L605 1874.5L605 1870.5ZM606.5 1903.5L605 1901.5L605 1897.5L608 1897.5L608 1901.5ZM626 1890L631.5 1899.5L620.5 1899.5ZM549 1879.5L551.5 1877.5L553.5 1880V1889L551.5 1891L549 1889.5ZM651 1879.5L648.5 1877.5L646.5 1880V1889L648.5 1891L651 1889.5ZM575.5 1931.5L577.5 1930L581.5 1930L581.5 1933L577.5 1933ZM623.5 1931.5L621.5 1933L617.5 1933L617.5 1930L621.5 1930ZM552.5 1948.5L554.5 1947L558.5 1947L558.5 1950L554.5 1950ZM647.5 1948.5L645.5 1950L641.5 1950L641.5 1947L645.5 1947ZM549.5 1966.5L551.5 1965L555.5 1965L555.5 1968L551.5 1968ZM650.5 1966.5L648.5 1968L644.5 1968L644.5 1965L648.5 1965ZM188.5 1710.5L190.5 1709L194.5 1709L194.5 1712L190.5 1712ZM247.5 1710.5L245.5 1712L241.5 1712L241.5 1709L245.5 1709ZM247.5 1710.5L249.5 1709L253.5 1709L253.5 1712L249.5 1712ZM297.5 1710.5L295.5 1712L291.5 1712L291.5 1709L295.5 1709ZM297.5 1710.5L299.5 1709L303.5 1709L303.5 1712L299.5 1712ZM360.5 1710.5L358.5 1712L354.5 1712L354.5 1709L358.5 1709ZM360.5 1710.5L362.5 1709L366.5 1709L366.5 1712L362.5 1712ZM422.5 1710.5L420.5 1712L416.5 1712L416.5 1709L420.5 1709ZM286.96 1893.5H293.96V1898.5H286.96ZM301.96 1893.5H308.96V1898.5H301.96ZM349.29 1893.5H356.29V1898.5H349.29ZM364.29 1893.5H371.29V1898.5H364.29ZM411.62 1893.5H418.62V1898.5H411.62ZM426.62 1893.5H433.62V1898.5H426.62ZM233.5 1785.22L237.5 1779.22L240.5 1779.22L237.5 1786.22L240.5 1788.13L234.5 1789.13ZM437 1900H443V1910H437ZM474.5 1748.5L476 1750.5L476 1754.5L473 1754.5L473 1750.5ZM474.5 1829.5L473 1827.5L473 1823.5L476 1823.5L476 1827.5ZM474.5 1829.5L476 1831.5L476 1835.5L473 1835.5L473 1831.5ZM474.5 1878.5L473 1876.5L473 1872.5L476 1872.5L476 1876.5ZM474.5 1878.5L476 1880.5L476 1884.5L473 1884.5L473 1880.5ZM474.5 1914.5L473 1912.5L473 1908.5L476 1908.5L476 1912.5ZM499.5 1728.5L501 1730.5L501 1734.5L498 1734.5L498 1730.5ZM499.5 1914.5L498 1912.5L498 1908.5L501 1908.5L501 1912.5ZM169.5 1750.5L171 1752.5L171 1756.5L168 1756.5L168 1752.5ZM169.5 1914.5L168 1912.5L168 1908.5L171 1908.5L171 1912.5ZM247.5 1940.5L245.5 1942L241.5 1942L241.5 1939L245.5 1939ZM256.5 1940.5L258.5 1939L262.5 1939L262.5 1942L258.5 1942ZM437.5 1940.5L435.5 1942L431.5 1942L431.5 1939L435.5 1939ZM188.5 1957.5L190.5 1956L194.5 1956L194.5 1959L190.5 1959ZM452.5 1957.5L450.5 1959L446.5 1959L446.5 1956L450.5 1956ZM254.92 1914.19L257.17 1914.99L259.59 1918.17L257.52 1919.75L255.1 1916.57ZM340.5 1963.32L342.1 1965.32L342.1 1970.32L338.9 1970.32L338.9 1965.32ZM405.5 1914.5L404 1912.5L404 1908.5L407 1908.5L407 1912.5ZM405.5 1916.5L407 1918.5L407 1922.5L404 1922.5L404 1918.5Z"/>
<path fill="#fff" shape-rendering="crispEdges" d="M279.5 1376H281.5V1377H279.5ZM295.5 1376H297.5V1377H295.5ZM342.5 1376H344.5V1377H342.5ZM358.5 1376H360.5V1377H358.5ZM405.5 1376H407.5V1377H405.5ZM421.5 1376H423.5V1377H421.5ZM290.5 1536.5H292.5V1545.5H290.5ZM291 1550.5H292V1558.5H291ZM353.5 1536.5H355.5V1545.5H353.5ZM354 1550.5H355V1558.5H354ZM416.5 1536.5H418.5V1545.5H416.5ZM417 1550.5H418V1558.5H417ZM296.7 2067.8H298.7V2076.8H296.7ZM297.2 2081.8H298.2V2089.8H297.2ZM359.7 2067.8H361.7V2076.8H359.7ZM360.2 2081.8H361.2V2089.8H360.2ZM422.7 2067.8H424.7V2076.8H422.7ZM423.2 2081.8H424.2V2089.8H423.2ZM574 1234H575V1235H574ZM616 1234H617V1235H616ZM577 1234H578V1235H577ZM613 1234H614V1235H613ZM580 1234H581V1235H580ZM610 1234H611V1235H610ZM583 1234H584V1235H583ZM607 1234H608V1235H607ZM586 1234H587V1235H586ZM604 1234H605V1235H604ZM589 1234H590V1235H589ZM601 1234H602V1235H601ZM581 1754H582V1755H581ZM623 1754H624V1755H623ZM584 1754H585V1755H584ZM620 1754H621V1755H620ZM587 1754H588V1755H587ZM617 1754H618V1755H617ZM590 1754H591V1755H590ZM614 1754H615V1755H614ZM593 1754H594V1755H593ZM611 1754H612V1755H611ZM596 1754H597V1755H596ZM608 1754H609V1755H608ZM288.96 1894H290.96V1895H288.96ZM304.96 1894H306.96V1895H304.96ZM351.29 1894H353.29V1895H351.29ZM367.29 1894H369.29V1895H367.29ZM413.62 1894H415.62V1895H413.62ZM429.62 1894H431.62V1895H429.62Z"/>
<circle cx="625.5" cy="1528.5" r="35.5" fill="none" stroke="#000" stroke-width="1"/>
<circle cx="625.5" cy="1528.5" r="25.2" fill="none" stroke="#000" stroke-width="1" stroke-dasharray="9 2 2 2"/>
<circle cx="625.5" cy="1528.5" r="7.2" fill="none" stroke="#000" stroke-width="1"/>
<circle cx="625.5" cy="1503.3" r="2.5" fill="none" stroke="#000" stroke-width="1"/>
<circle cx="625.5" cy="1553.7" r="2.5" fill="none" stroke="#000" stroke-width="1"/>
<circle cx="600.3" cy="1528.5" r="2.5" fill="none" stroke="#000" stroke-width="1"/>
<circle cx="650.7" cy="1528.5" r="2.5" fill="none" stroke="#000" stroke-width="1"/>
<circle cx="643.32" cy="1510.68" r="4.6" fill="none" stroke="#000" stroke-width="1"/>
<circle cx="643.32" cy="1510.68" r="2.7" fill="none" stroke="#000" stroke-width="1"/>
<circle cx="607.68" cy="1546.32" r="4.6" fill="none" stroke="#000" stroke-width="1"/>
<circle cx="607.68" cy="1546.32" r="2.7" fill="none" stroke="#000" stroke-width="1"/>
<path d="M584.5 1528.5H667.5" fill="none" stroke="#000" stroke-width="1" stroke-dasharray="18 2 3 2" shape-rendering="crispEdges"/>
<path d="M625.5 1489.5V1569.5" fill="none" stroke="#000" stroke-width="1" stroke-dasharray="18 2 3 2" shape-rendering="crispEdges"/>
<circle cx="612.5" cy="2073.5" r="35.5" fill="none" stroke="#000" stroke-width="1"/>
<circle cx="612.5" cy="2073.5" r="25.2" fill="none" stroke="#000" stroke-width="1" stroke-dasharray="9 2 2 2"/>
<circle cx="612.5" cy="2073.5" r="7.2" fill="none" stroke="#000" stroke-width="1"/>
<circle cx="612.5" cy="2048.3" r="2.5" fill="none" stroke="#000" stroke-width="1"/>
<circle cx="612.5" cy="2098.7" r="2.5" fill="none" stroke="#000" stroke-width="1"/>
<circle cx="587.3" cy="2073.5" r="2.5" fill="none" stroke="#000" stroke-width="1"/>
<circle cx="637.7" cy="2073.5" r="2.5" fill="none" stroke="#000" stroke-width="1"/>
<circle cx="630.32" cy="2055.68" r="4.6" fill="none" stroke="#000" stroke-width="1"/>
<circle cx="630.32" cy="2055.68" r="2.7" fill="none" stroke="#000" stroke-width="1"/>
<circle cx="594.68" cy="2091.32" r="4.6" fill="none" stroke="#000" stroke-width="1"/>
<circle cx="594.68" cy="2091.32" r="2.7" fill="none" stroke="#000" stroke-width="1"/>
<path d="M571.5 2073.5H654.5" fill="none" stroke="#000" stroke-width="1" stroke-dasharray="18 2 3 2" shape-rendering="crispEdges"/>
<path d="M612.5 2034.5V2114.5" fill="none" stroke="#000" stroke-width="1" stroke-dasharray="18 2 3 2" shape-rendering="crispEdges"/>
<path d="M288.5 1241V1298" fill="none" stroke="#000" stroke-width="1" stroke-dasharray="9 2 1 2" shape-rendering="crispEdges"/>
<path d="M288.5 1323V1400" fill="none" stroke="#000" stroke-width="1" stroke-dasharray="6 2 1 2" shape-rendering="crispEdges"/>
<path d="M351.5 1241V1298" fill="none" stroke="#000" stroke-width="1" stroke-dasharray="9 2 1 2" shape-rendering="crispEdges"/>
<path d="M351.5 1323V1400" fill="none" stroke="#000" stroke-width="1" stroke-dasharray="6 2 1 2" shape-rendering="crispEdges"/>
<path d="M414.5 1241V1298" fill="none" stroke="#000" stroke-width="1" stroke-dasharray="9 2 1 2" shape-rendering="crispEdges"/>
<path d="M414.5 1323V1400" fill="none" stroke="#000" stroke-width="1" stroke-dasharray="6 2 1 2" shape-rendering="crispEdges"/>
<circle cx="288.5" cy="1228.5" r="12.2" fill="none" stroke="#000" stroke-width="2"/>
<circle cx="288.5" cy="1228.5" r="9" fill="none" stroke="#000" stroke-width="1"/>
<circle cx="288.5" cy="1228.5" r="2.3" fill="none" stroke="#000" stroke-width="1"/>
<circle cx="296" cy="1221" r="2.8" fill="#000"/>
<circle cx="281" cy="1236" r="2.8" fill="#000"/>
<circle cx="281" cy="1221" r="1.6" fill="#000"/>
<circle cx="296" cy="1236" r="1.6" fill="#000"/>
<circle cx="288.5" cy="1310.5" r="12.2" fill="none" stroke="#000" stroke-width="2"/>
<circle cx="288.5" cy="1310.5" r="9" fill="none" stroke="#000" stroke-width="1"/>
<circle cx="288.5" cy="1310.5" r="2.3" fill="none" stroke="#000" stroke-width="1"/>
<circle cx="296" cy="1303" r="2.8" fill="#000"/>
<circle cx="281" cy="1318" r="2.8" fill="#000"/>
<circle cx="281" cy="1303" r="1.6" fill="#000"/>
<circle cx="296" cy="1318" r="1.6" fill="#000"/>
<circle cx="351.5" cy="1228.5" r="12.2" fill="none" stroke="#000" stroke-width="2"/>
<circle cx="351.5" cy="1228.5" r="9" fill="none" stroke="#000" stroke-width="1"/>
<circle cx="351.5" cy="1228.5" r="2.3" fill="none" stroke="#000" stroke-width="1"/>
<circle cx="359" cy="1221" r="2.8" fill="#000"/>
<circle cx="344" cy="1236" r="2.8" fill="#000"/>
<circle cx="344" cy="1221" r="1.6" fill="#000"/>
<circle cx="359" cy="1236" r="1.6" fill="#000"/>
<circle cx="351.5" cy="1310.5" r="12.2" fill="none" stroke="#000" stroke-width="2"/>
<circle cx="351.5" cy="1310.5" r="9" fill="none" stroke="#000" stroke-width="1"/>
<circle cx="351.5" cy="1310.5" r="2.3" fill="none" stroke="#000" stroke-width="1"/>
<circle cx="359" cy="1303" r="2.8" fill="#000"/>
<circle cx="344" cy="1318" r="2.8" fill="#000"/>
<circle cx="344" cy="1303" r="1.6" fill="#000"/>
<circle cx="359" cy="1318" r="1.6" fill="#000"/>
<circle cx="414.5" cy="1228.5" r="12.2" fill="none" stroke="#000" stroke-width="2"/>
<circle cx="414.5" cy="1228.5" r="9" fill="none" stroke="#000" stroke-width="1"/>
<circle cx="414.5" cy="1228.5" r="2.3" fill="none" stroke="#000" stroke-width="1"/>
<circle cx="422" cy="1221" r="2.8" fill="#000"/>
<circle cx="407" cy="1236" r="2.8" fill="#000"/>
<circle cx="407" cy="1221" r="1.6" fill="#000"/>
<circle cx="422" cy="1236" r="1.6" fill="#000"/>
<circle cx="414.5" cy="1310.5" r="12.2" fill="none" stroke="#000" stroke-width="2"/>
<circle cx="414.5" cy="1310.5" r="9" fill="none" stroke="#000" stroke-width="1"/>
<circle cx="414.5" cy="1310.5" r="2.3" fill="none" stroke="#000" stroke-width="1"/>
<circle cx="422" cy="1303" r="2.8" fill="#000"/>
<circle cx="407" cy="1318" r="2.8" fill="#000"/>
<circle cx="407" cy="1303" r="1.6" fill="#000"/>
<circle cx="422" cy="1318" r="1.6" fill="#000"/>
<circle cx="227" cy="1251" r="4.2" fill="none" stroke="#000" stroke-width="1"/>
<circle cx="227.5" cy="1366.5" r="6.6" fill="none" stroke="#000" stroke-width="1"/>
<circle cx="227.5" cy="1366.5" r="4.3" fill="none" stroke="#000" stroke-width="1"/>
<path d="M434 1381.5q-4 1.5 -1.5 4q2.5 2 -1.5 4.5" fill="none" stroke="#fff" stroke-width="1.2"/>
<circle cx="431.5" cy="1373.5" r="2.2" fill="none" stroke="#000" stroke-width="1"/>
<path d="M231.5 1499.5V1582" fill="none" stroke="#000" stroke-width="1" stroke-dasharray="10 2 2 2" shape-rendering="crispEdges"/>
<path d="M171.5 1540.5H470" fill="none" stroke="#000" stroke-width="1" stroke-dasharray="16 2 3 2" shape-rendering="crispEdges"/>
<path d="M243 1552.5H470" fill="none" stroke="#000" stroke-width="1" stroke-dasharray="16 2 3 2" shape-rendering="crispEdges"/>
<circle cx="338.5" cy="1518.5" r="1.3" fill="#000"/>
<circle cx="370.5" cy="1518.5" r="1.3" fill="#000"/>
<circle cx="344.5" cy="1528.5" r="3.1" fill="#000"/>
<circle cx="364.5" cy="1528.5" r="3.1" fill="#000"/>
<circle cx="432.5" cy="1564.5" r="3" fill="none" stroke="#000" stroke-width="1"/>
<circle cx="428.66" cy="1518.76" r="2.6" fill="none" stroke="#000" stroke-width="1"/>
<path d="M237.5 2018.5V2125" fill="none" stroke="#000" stroke-width="1" stroke-dasharray="10 2 2 2" shape-rendering="crispEdges"/>
<path d="M181.5 2071.5H476.2" fill="none" stroke="#000" stroke-width="1" stroke-dasharray="16 2 3 2" shape-rendering="crispEdges"/>
<path d="M249.2 2083.5H476.2" fill="none" stroke="#000" stroke-width="1" stroke-dasharray="16 2 3 2" shape-rendering="crispEdges"/>
<circle cx="344.7" cy="2049.8" r="1.3" fill="#000"/>
<circle cx="376.7" cy="2049.8" r="1.3" fill="#000"/>
<circle cx="350.7" cy="2059.8" r="3.1" fill="#000"/>
<circle cx="370.7" cy="2059.8" r="3.1" fill="#000"/>
<circle cx="438.5" cy="2095.5" r="3" fill="none" stroke="#000" stroke-width="1"/>
<circle cx="436.39" cy="2049.16" r="2.6" fill="none" stroke="#000" stroke-width="1"/>
<path d="M594.5 1241V1400" fill="none" stroke="#000" stroke-width="1" stroke-dasharray="14 2 2 2" shape-rendering="crispEdges"/>
<path d="M603.5 1228.5H634.5" fill="none" stroke="#000" stroke-width="1" stroke-dasharray="9 2 5 2" shape-rendering="crispEdges"/>
<circle cx="611" cy="1308.5" r="5.6" fill="none" stroke="#000" stroke-width="1.3"/>
<circle cx="611" cy="1308.5" r="3.2" fill="none" stroke="#000" stroke-width="1"/>
<circle cx="611" cy="1326.5" r="5.6" fill="none" stroke="#000" stroke-width="1.3"/>
<circle cx="611" cy="1326.5" r="3.2" fill="none" stroke="#000" stroke-width="1"/>
<path d="M613.25 1374L616.25 1379.5L610.25 1379.5Z" fill="#fff"/><path d="M613.25 1375v3.2M613.25 1378.7v0.8" stroke="#000" stroke-width="1.1" fill="none"/>
<circle cx="563.2" cy="1389" r="2.1" fill="#000"/>
<circle cx="623" cy="1389" r="2.1" fill="#000"/>
<path d="M599.5 1762V1918" fill="none" stroke="#000" stroke-width="1" stroke-dasharray="14 2 2 2" shape-rendering="crispEdges"/>
<path d="M610.3 1748.5H641.3" fill="none" stroke="#000" stroke-width="1" stroke-dasharray="9 2 5 2" shape-rendering="crispEdges"/>
<circle cx="617" cy="1828.5" r="5.6" fill="none" stroke="#000" stroke-width="1.3"/>
<circle cx="617" cy="1828.5" r="3.2" fill="none" stroke="#000" stroke-width="1"/>
<circle cx="617" cy="1846.5" r="5.6" fill="none" stroke="#000" stroke-width="1.3"/>
<circle cx="617" cy="1846.5" r="3.2" fill="none" stroke="#000" stroke-width="1"/>
<path d="M626 1892.5L629 1898L623 1898Z" fill="#fff"/><path d="M626 1893.5v3.2M626 1897.2v0.8" stroke="#000" stroke-width="1.1" fill="none"/>
<circle cx="558.2" cy="1907.7" r="2.1" fill="#000"/>
<circle cx="641" cy="1907.7" r="2.1" fill="#000"/>
<path d="M297.5 1760.85V1817.42" fill="none" stroke="#000" stroke-width="1" stroke-dasharray="9 2 1 2" shape-rendering="crispEdges"/>
<path d="M297.5 1842.23V1918.66" fill="none" stroke="#000" stroke-width="1" stroke-dasharray="6 2 1 2" shape-rendering="crispEdges"/>
<path d="M360.5 1760.85V1817.42" fill="none" stroke="#000" stroke-width="1" stroke-dasharray="9 2 1 2" shape-rendering="crispEdges"/>
<path d="M360.5 1842.23V1918.66" fill="none" stroke="#000" stroke-width="1" stroke-dasharray="6 2 1 2" shape-rendering="crispEdges"/>
<path d="M422.5 1760.85V1817.42" fill="none" stroke="#000" stroke-width="1" stroke-dasharray="9 2 1 2" shape-rendering="crispEdges"/>
<path d="M422.5 1842.23V1918.66" fill="none" stroke="#000" stroke-width="1" stroke-dasharray="6 2 1 2" shape-rendering="crispEdges"/>
<circle cx="297.5" cy="1748.5" r="12.2" fill="none" stroke="#000" stroke-width="2"/>
<circle cx="297.5" cy="1748.5" r="9" fill="none" stroke="#000" stroke-width="1"/>
<circle cx="297.5" cy="1748.5" r="2.3" fill="none" stroke="#000" stroke-width="1"/>
<circle cx="305" cy="1741" r="2.8" fill="#000"/>
<circle cx="290" cy="1756" r="2.8" fill="#000"/>
<circle cx="290" cy="1741" r="1.6" fill="#000"/>
<circle cx="305" cy="1756" r="1.6" fill="#000"/>
<circle cx="297.5" cy="1829.5" r="12.2" fill="none" stroke="#000" stroke-width="2"/>
<circle cx="297.5" cy="1829.5" r="9" fill="none" stroke="#000" stroke-width="1"/>
<circle cx="297.5" cy="1829.5" r="2.3" fill="none" stroke="#000" stroke-width="1"/>
<circle cx="305" cy="1822" r="2.8" fill="#000"/>
<circle cx="290" cy="1837" r="2.8" fill="#000"/>
<circle cx="290" cy="1822" r="1.6" fill="#000"/>
<circle cx="305" cy="1837" r="1.6" fill="#000"/>
<circle cx="360.5" cy="1748.5" r="12.2" fill="none" stroke="#000" stroke-width="2"/>
<circle cx="360.5" cy="1748.5" r="9" fill="none" stroke="#000" stroke-width="1"/>
<circle cx="360.5" cy="1748.5" r="2.3" fill="none" stroke="#000" stroke-width="1"/>
<circle cx="368" cy="1741" r="2.8" fill="#000"/>
<circle cx="353" cy="1756" r="2.8" fill="#000"/>
<circle cx="353" cy="1741" r="1.6" fill="#000"/>
<circle cx="368" cy="1756" r="1.6" fill="#000"/>
<circle cx="360.5" cy="1829.5" r="12.2" fill="none" stroke="#000" stroke-width="2"/>
<circle cx="360.5" cy="1829.5" r="9" fill="none" stroke="#000" stroke-width="1"/>
<circle cx="360.5" cy="1829.5" r="2.3" fill="none" stroke="#000" stroke-width="1"/>
<circle cx="368" cy="1822" r="2.8" fill="#000"/>
<circle cx="353" cy="1837" r="2.8" fill="#000"/>
<circle cx="353" cy="1822" r="1.6" fill="#000"/>
<circle cx="368" cy="1837" r="1.6" fill="#000"/>
<circle cx="422.5" cy="1748.5" r="12.2" fill="none" stroke="#000" stroke-width="2"/>
<circle cx="422.5" cy="1748.5" r="9" fill="none" stroke="#000" stroke-width="1"/>
<circle cx="422.5" cy="1748.5" r="2.3" fill="none" stroke="#000" stroke-width="1"/>
<circle cx="430" cy="1741" r="2.8" fill="#000"/>
<circle cx="415" cy="1756" r="2.8" fill="#000"/>
<circle cx="415" cy="1741" r="1.6" fill="#000"/>
<circle cx="430" cy="1756" r="1.6" fill="#000"/>
<circle cx="422.5" cy="1829.5" r="12.2" fill="none" stroke="#000" stroke-width="2"/>
<circle cx="422.5" cy="1829.5" r="9" fill="none" stroke="#000" stroke-width="1"/>
<circle cx="422.5" cy="1829.5" r="2.3" fill="none" stroke="#000" stroke-width="1"/>
<circle cx="430" cy="1822" r="2.8" fill="#000"/>
<circle cx="415" cy="1837" r="2.8" fill="#000"/>
<circle cx="415" cy="1822" r="1.6" fill="#000"/>
<circle cx="430" cy="1837" r="1.6" fill="#000"/>
<circle cx="237" cy="1770.77" r="4.2" fill="none" stroke="#000" stroke-width="1"/>
<circle cx="237.5" cy="1885.5" r="6.6" fill="none" stroke="#000" stroke-width="1"/>
<circle cx="237.5" cy="1885.5" r="4.3" fill="none" stroke="#000" stroke-width="1"/>
<path d="M441.92 1900.29q-4 1.5 -1.5 4q2.5 2 -1.5 4.5" fill="none" stroke="#fff" stroke-width="1.2"/>
<circle cx="439.5" cy="1892.5" r="2.2" fill="none" stroke="#000" stroke-width="1"/>
<g fill="#000" style="will-change:opacity" text-rendering="geometricPrecision"><text transform="translate(592.5 1464)" font-family='"Liberation Serif","Noto Serif CJK SC",serif' font-size="16.5" text-anchor="start"  font-weight="300">B向放大</text><text transform="translate(621 1479)" font-family='"Liberation Sans","Noto Sans CJK SC",sans-serif' font-size="10.81" text-anchor="middle" textLength="33" lengthAdjust="spacing">3 : 1</text><text transform="translate(588.27 1501.46) rotate(32.88)" font-family='"Liberation Sans","Noto Sans CJK SC",sans-serif' font-size="11.28" text-anchor="middle" >M18</text><text transform="translate(665.68 1480.86) rotate(-47.56)" font-family='"Liberation Sans","Noto Sans CJK SC",sans-serif' font-size="11.28" text-anchor="middle" textLength="31" lengthAdjust="spacing">2-φ9</text><text transform="translate(679.18 1497.2) rotate(-16.86)" font-family='"Liberation Sans","Noto Sans CJK SC",sans-serif' font-size="11.28" text-anchor="middle" textLength="38" lengthAdjust="spacing">2-φ15</text><text textLength="44" lengthAdjust="spacing" transform="translate(626 1582)" font-family='"Liberation Sans","Noto Sans CJK SC",sans-serif' font-size="11.75" text-anchor="middle" >58±0.2</text><text textLength="23" lengthAdjust="spacing" transform="translate(628.5 1600)" font-family='"Liberation Sans","Noto Sans CJK SC",sans-serif' font-size="11.75" text-anchor="middle" >φ75</text><text transform="translate(578.5 2007)" font-family='"Liberation Serif","Noto Serif CJK SC",serif' font-size="16.5" text-anchor="start"  font-weight="300">B向放大</text><text transform="translate(607 2022)" font-family='"Liberation Sans","Noto Sans CJK SC",sans-serif' font-size="10.81" text-anchor="middle" textLength="33" lengthAdjust="spacing">3 : 1</text><text transform="translate(577.76 2040.03) rotate(40.96)" font-family='"Liberation Sans","Noto Sans CJK SC",sans-serif' font-size="11.28" text-anchor="middle" >M18</text><text transform="translate(655 2030.98) rotate(-42.63)" font-family='"Liberation Sans","Noto Sans CJK SC",sans-serif' font-size="11.28" text-anchor="middle" textLength="31" lengthAdjust="spacing">2-φ9</text><text transform="translate(668.85 2048.98) rotate(-6.2)" font-family='"Liberation Sans","Noto Sans CJK SC",sans-serif' font-size="11.28" text-anchor="middle" textLength="38" lengthAdjust="spacing">2-φ15</text><text transform="translate(555.51 2084.28) rotate(-23)" font-family='"Liberation Sans","Noto Sans CJK SC",sans-serif' font-size="11.28" text-anchor="middle" >4-M10</text><text textLength="44" lengthAdjust="spacing" transform="translate(613 2127)" font-family='"Liberation Sans","Noto Sans CJK SC",sans-serif' font-size="11.75" text-anchor="middle" >58±0.2</text><text textLength="23" lengthAdjust="spacing" transform="translate(615.5 2145)" font-family='"Liberation Sans","Noto Sans CJK SC",sans-serif' font-size="11.75" text-anchor="middle" >φ75</text><text transform="translate(230.4 1608)" font-family='"Liberation Serif","Noto Serif CJK SC",serif' font-size="14" text-anchor="start" textLength="55.2" lengthAdjust="spacing" font-weight="300">额定电流</text><text transform="translate(292.6 1607.5) scale(0.95 1)" font-family='"Liberation Sans","Noto Sans CJK SC",sans-serif' font-size="11.28" text-anchor="start" >(A)</text><text transform="translate(230.4 1625.3)" font-family='"Liberation Serif","Noto Serif CJK SC",serif' font-size="14" text-anchor="start" textLength="110.4" lengthAdjust="spacing" font-weight="300">额定短路开断电流</text><text transform="translate(341.3 1624.8) scale(0.95 1)" font-family='"Liberation Sans","Noto Sans CJK SC",sans-serif' font-size="11.28" text-anchor="start" >(KA)</text><text transform="translate(230.4 1642.3)" font-family='"Liberation Serif","Noto Serif CJK SC",serif' font-size="14" text-anchor="start" textLength="55.2" lengthAdjust="spacing" font-weight="300">相间距离</text><text transform="translate(292.6 1641.8) scale(0.95 1)" font-family='"Liberation Sans","Noto Sans CJK SC",sans-serif' font-size="11.28" text-anchor="start" >(mm)</text><text transform="translate(406.3 1607.2) scale(1.04 1)" font-family='"Liberation Sans","Noto Sans CJK SC",sans-serif' font-size="12.69" text-anchor="middle" >630</text><text transform="translate(499 1607.2) scale(1.04 1)" font-family='"Liberation Sans","Noto Sans CJK SC",sans-serif' font-size="12.69" text-anchor="middle" >1250</text><text transform="translate(372 1624.2)" font-family='"Liberation Sans","Noto Sans CJK SC",sans-serif' font-size="12.69" text-anchor="start" textLength="80.5" lengthAdjust="spacing">20、25、31.5</text><text transform="translate(464 1624.2)" font-family='"Liberation Sans","Noto Sans CJK SC",sans-serif' font-size="12.69" text-anchor="start" textLength="80.5" lengthAdjust="spacing">20、25、31.5</text><text transform="translate(473.5 1641.5)" font-family='"Liberation Sans","Noto Sans CJK SC",sans-serif' font-size="12.69" text-anchor="middle" textLength="53.5" lengthAdjust="spacing">210±1.5</text><text transform="translate(235 2141)" font-family='"Liberation Serif","Noto Serif CJK SC",serif' font-size="13" text-anchor="start" textLength="53.2" lengthAdjust="spacing" font-weight="300">额定电流</text><text transform="translate(295.2 2140.5) scale(0.95 1)" font-family='"Liberation Sans","Noto Sans CJK SC",sans-serif' font-size="11.28" text-anchor="start" >(A)</text><text transform="translate(235 2158.7)" font-family='"Liberation Serif","Noto Serif CJK SC",serif' font-size="13" text-anchor="start" textLength="106.4" lengthAdjust="spacing" font-weight="300">额定短路开断电流</text><text transform="translate(341.9 2158.2) scale(0.95 1)" font-family='"Liberation Sans","Noto Sans CJK SC",sans-serif' font-size="11.28" text-anchor="start" >(KA)</text><text transform="translate(235 2176.2)" font-family='"Liberation Serif","Noto Serif CJK SC",serif' font-size="13" text-anchor="start" textLength="53.2" lengthAdjust="spacing" font-weight="300">相间距离</text><text transform="translate(295.2 2175.7) scale(0.95 1)" font-family='"Liberation Sans","Noto Sans CJK SC",sans-serif' font-size="11.28" text-anchor="start" >(mm)</text><text transform="translate(408 2140.3) scale(1.04 1)" font-family='"Liberation Sans","Noto Sans CJK SC",sans-serif' font-size="12.69" text-anchor="middle" >630</text><text transform="translate(499.7 2140.3) scale(1.04 1)" font-family='"Liberation Sans","Noto Sans CJK SC",sans-serif' font-size="12.69" text-anchor="middle" >1250</text><text transform="translate(373.5 2157.2)" font-family='"Liberation Sans","Noto Sans CJK SC",sans-serif' font-size="12.69" text-anchor="start" textLength="80.5" lengthAdjust="spacing">20、25、31.5</text><text transform="translate(465.2 2157.2)" font-family='"Liberation Sans","Noto Sans CJK SC",sans-serif' font-size="12.69" text-anchor="start" textLength="80.5" lengthAdjust="spacing">20、25、31.5</text><text transform="translate(474.5 2175)" font-family='"Liberation Sans","Noto Sans CJK SC",sans-serif' font-size="12.69" text-anchor="middle" textLength="53.5" lengthAdjust="spacing">210±1.5</text><text transform="translate(207.7 1187)" font-family='"Liberation Sans","Noto Sans CJK SC",sans-serif' font-size="11.28" text-anchor="middle" >198</text><text transform="translate(262.4 1187)" font-family='"Liberation Sans","Noto Sans CJK SC",sans-serif' font-size="11.28" text-anchor="middle" >170</text><text transform="translate(320.5 1187)" font-family='"Liberation Sans","Noto Sans CJK SC",sans-serif' font-size="11.28" text-anchor="middle" >210</text><text transform="translate(383 1187)" font-family='"Liberation Sans","Noto Sans CJK SC",sans-serif' font-size="11.28" text-anchor="middle" >210</text><text transform="translate(465 1269.5) rotate(-90)" font-family='"Liberation Sans","Noto Sans CJK SC",sans-serif' font-size="11.28" text-anchor="middle" >275</text><text transform="translate(465 1335) rotate(-90)" font-family='"Liberation Sans","Noto Sans CJK SC",sans-serif' font-size="11.28" text-anchor="middle" >165</text><text transform="translate(465 1377.5) rotate(-90)" font-family='"Liberation Sans","Noto Sans CJK SC",sans-serif' font-size="11.28" text-anchor="middle" >119</text><text transform="translate(490 1301) rotate(-90)" font-family='"Liberation Sans","Noto Sans CJK SC",sans-serif' font-size="11.28" text-anchor="middle" >630</text><text transform="translate(157 1316) rotate(-90)" font-family='"Liberation Sans","Noto Sans CJK SC",sans-serif' font-size="11.28" text-anchor="middle" >550</text><text transform="translate(213.5 1420)" font-family='"Liberation Sans","Noto Sans CJK SC",sans-serif' font-size="11.28" text-anchor="middle" >30</text><text transform="translate(338.5 1420)" font-family='"Liberation Sans","Noto Sans CJK SC",sans-serif' font-size="11.28" text-anchor="middle" >610</text><text transform="translate(311 1437)" font-family='"Liberation Sans","Noto Sans CJK SC",sans-serif' font-size="11.28" text-anchor="middle" >888</text><text transform="translate(278 1414)" font-family='"Liberation Sans","Noto Sans CJK SC",sans-serif' font-size="11.28" text-anchor="middle" >4-M12</text><text transform="translate(336.3 1460)" font-family='"Liberation Serif","Noto Serif CJK SC",serif' font-size="15.5" text-anchor="start"  font-weight="300">A向</text><text transform="translate(320.5 1497)" font-family='"Liberation Serif","Noto Serif CJK SC",serif' font-size="15" text-anchor="start"  font-weight="300">A向</text><text transform="translate(142 1540.75) rotate(-90)" font-family='"Liberation Sans","Noto Sans CJK SC",sans-serif' font-size="11.28" text-anchor="middle" >260</text><text transform="translate(160 1540.75) rotate(-90)" font-family='"Liberation Sans","Noto Sans CJK SC",sans-serif' font-size="11.28" text-anchor="middle" >240</text><text transform="translate(504 1540) rotate(-90)" font-family='"Liberation Sans","Noto Sans CJK SC",sans-serif' font-size="11.28" text-anchor="middle" >200</text><text transform="translate(485 1540) rotate(-90)" font-family='"Liberation Sans","Noto Sans CJK SC",sans-serif' font-size="11.28" text-anchor="middle" >160</text><text transform="translate(461 1550) rotate(-90)" font-family='"Liberation Sans","Noto Sans CJK SC",sans-serif' font-size="11.28" text-anchor="middle" >10</text><text transform="translate(462.77 1499.53) rotate(-26.19)" font-family='"Liberation Sans","Noto Sans CJK SC",sans-serif' font-size="10.81" text-anchor="middle" >4-M12</text><text transform="translate(340.5 2028.3)" font-family='"Liberation Serif","Noto Serif CJK SC",serif' font-size="15" text-anchor="start"  font-weight="300">A向</text><text transform="translate(152 2071.75) rotate(-90)" font-family='"Liberation Sans","Noto Sans CJK SC",sans-serif' font-size="11.28" text-anchor="middle" >340</text><text transform="translate(170 2071.75) rotate(-90)" font-family='"Liberation Sans","Noto Sans CJK SC",sans-serif' font-size="11.28" text-anchor="middle" >320</text><text transform="translate(510 2071.3) rotate(-90)" font-family='"Liberation Sans","Noto Sans CJK SC",sans-serif' font-size="11.28" text-anchor="middle" >200</text><text transform="translate(491 2071.3) rotate(-90)" font-family='"Liberation Sans","Noto Sans CJK SC",sans-serif' font-size="11.28" text-anchor="middle" >160</text><text transform="translate(467 2081.3) rotate(-90)" font-family='"Liberation Sans","Noto Sans CJK SC",sans-serif' font-size="11.28" text-anchor="middle" >10</text><text transform="translate(463.58 2027.07) rotate(-35.48)" font-family='"Liberation Sans","Noto Sans CJK SC",sans-serif' font-size="10.81" text-anchor="middle" >4-M12</text><text transform="translate(570 1187)" font-family='"Liberation Sans","Noto Sans CJK SC",sans-serif' font-size="11.28" text-anchor="middle" >10</text><text transform="translate(611.5 1187)" font-family='"Liberation Sans","Noto Sans CJK SC",sans-serif' font-size="11.28" text-anchor="middle" >106</text><text transform="translate(593 1410)" font-family='"Liberation Sans","Noto Sans CJK SC",sans-serif' font-size="11.28" text-anchor="middle" >160</text><text transform="translate(593 1428)" font-family='"Liberation Sans","Noto Sans CJK SC",sans-serif' font-size="11.28" text-anchor="middle" >240</text><text transform="translate(515.5 1360.5)" font-family='"Liberation Serif","Noto Serif CJK SC",serif' font-size="15" text-anchor="start"  font-weight="300">C向</text><text transform="translate(668.5 1224)" font-family='"Liberation Serif","Noto Serif CJK SC",serif' font-size="15.5" text-anchor="start"  font-weight="300">B向</text><text transform="translate(617.5 1708)" font-family='"Liberation Sans","Noto Sans CJK SC",sans-serif' font-size="11.28" text-anchor="middle" >106</text><text transform="translate(624.5 1708)" font-family='"Liberation Sans","Noto Sans CJK SC",sans-serif' font-size="11.28" text-anchor="middle" >10</text><text transform="translate(599.5 1785)" font-family='"Liberation Sans","Noto Sans CJK SC",sans-serif' font-size="11.28" text-anchor="middle" >310</text><text transform="translate(663.5 1791) rotate(-90)" font-family='"Liberation Sans","Noto Sans CJK SC",sans-serif' font-size="11.28" text-anchor="middle" >32</text><text transform="translate(676.5 1765)" font-family='"Liberation Serif","Noto Serif CJK SC",serif' font-size="15.5" text-anchor="start"  font-weight="300">B向</text><text transform="translate(578 1857)" font-family='"Liberation Sans","Noto Sans CJK SC",sans-serif' font-size="11.28" text-anchor="middle" >93</text><text transform="translate(604 1885.5) rotate(-90)" font-family='"Liberation Sans","Noto Sans CJK SC",sans-serif' font-size="11.28" text-anchor="middle" >117</text><text transform="translate(599.5 1929)" font-family='"Liberation Sans","Noto Sans CJK SC",sans-serif' font-size="11.28" text-anchor="middle" >160</text><text transform="translate(599.5 1946)" font-family='"Liberation Sans","Noto Sans CJK SC",sans-serif' font-size="11.28" text-anchor="middle" >320</text><text transform="translate(599.5 1964)" font-family='"Liberation Sans","Noto Sans CJK SC",sans-serif' font-size="11.28" text-anchor="middle" >340</text><text transform="translate(217.7 1708)" font-family='"Liberation Sans","Noto Sans CJK SC",sans-serif' font-size="11.28" text-anchor="middle" >198</text><text transform="translate(272.14 1708)" font-family='"Liberation Sans","Noto Sans CJK SC",sans-serif' font-size="11.28" text-anchor="middle" >170</text><text transform="translate(329.62 1708)" font-family='"Liberation Sans","Noto Sans CJK SC",sans-serif' font-size="11.28" text-anchor="middle" >210</text><text transform="translate(391.46 1708)" font-family='"Liberation Sans","Noto Sans CJK SC",sans-serif' font-size="11.28" text-anchor="middle" >210</text><text transform="translate(472 1789.13) rotate(-90)" font-family='"Liberation Sans","Noto Sans CJK SC",sans-serif' font-size="11.28" text-anchor="middle" >275</text><text transform="translate(472 1854.14) rotate(-90)" font-family='"Liberation Sans","Noto Sans CJK SC",sans-serif' font-size="11.28" text-anchor="middle" >165</text><text transform="translate(472 1896.32) rotate(-90)" font-family='"Liberation Sans","Noto Sans CJK SC",sans-serif' font-size="11.28" text-anchor="middle" >119</text><text transform="translate(497 1820.4) rotate(-90)" font-family='"Liberation Sans","Noto Sans CJK SC",sans-serif' font-size="11.28" text-anchor="middle" >630</text><text transform="translate(167 1835.29) rotate(-90)" font-family='"Liberation Sans","Noto Sans CJK SC",sans-serif' font-size="11.28" text-anchor="middle" >550</text><text transform="translate(223.5 1938)" font-family='"Liberation Sans","Noto Sans CJK SC",sans-serif' font-size="11.28" text-anchor="middle" >30</text><text transform="translate(347.43 1938)" font-family='"Liberation Sans","Noto Sans CJK SC",sans-serif' font-size="11.28" text-anchor="middle" >610</text><text transform="translate(320.22 1955)" font-family='"Liberation Sans","Noto Sans CJK SC",sans-serif' font-size="11.28" text-anchor="middle" >888</text><text transform="translate(287.57 1933)" font-family='"Liberation Sans","Noto Sans CJK SC",sans-serif' font-size="11.28" text-anchor="middle" >4-M12</text><text transform="translate(345.25 1978.21)" font-family='"Liberation Serif","Noto Serif CJK SC",serif' font-size="15.5" text-anchor="start"  font-weight="300">A向</text><text transform="translate(403.3 1935.53) rotate(-90)" font-family='"Liberation Sans","Noto Sans CJK SC",sans-serif' font-size="11.28" text-anchor="middle" >4</text></g>
</svg>
<svg width="793" height="300" viewBox="0 0 793 300">
<defs>
<linearGradient id="cy" x1="0" x2="1" y1="0" y2="0">
 <stop offset="0.000" stop-color="#260f09"/> <stop offset="0.050" stop-color="#3a1a13"/> <stop offset="0.140" stop-color="#50281d"/> <stop offset="0.260" stop-color="#46211a"/> <stop offset="0.460" stop-color="#4a241a"/> <stop offset="0.600" stop-color="#5e3024"/> <stop offset="0.655" stop-color="#7c4c40"/> <stop offset="0.680" stop-color="#ae948e"/> <stop offset="0.710" stop-color="#74463a"/> <stop offset="0.780" stop-color="#542a1f"/> <stop offset="0.930" stop-color="#3a1a13"/> <stop offset="1.000" stop-color="#240f09"/>
</linearGradient>
<linearGradient id="cy1" x1="0" x2="1" y1="0" y2="0">
 <stop offset="0.000" stop-color="#260f09"/> <stop offset="0.050" stop-color="#3a1a13"/> <stop offset="0.140" stop-color="#50281d"/> <stop offset="0.260" stop-color="#46211a"/> <stop offset="0.530" stop-color="#4a241a"/> <stop offset="0.670" stop-color="#5e3024"/> <stop offset="0.725" stop-color="#7c4c40"/> <stop offset="0.750" stop-color="#ae948e"/> <stop offset="0.780" stop-color="#74463a"/> <stop offset="0.850" stop-color="#542a1f"/> <stop offset="0.930" stop-color="#3a1a13"/> <stop offset="1.000" stop-color="#240f09"/>
</linearGradient>
<linearGradient id="cy3" x1="0" x2="1" y1="0" y2="0">
 <stop offset="0.000" stop-color="#260f09"/> <stop offset="0.050" stop-color="#3a1a13"/> <stop offset="0.140" stop-color="#50281d"/> <stop offset="0.260" stop-color="#46211a"/> <stop offset="0.300" stop-color="#4a241a"/> <stop offset="0.440" stop-color="#5e3024"/> <stop offset="0.495" stop-color="#7c4c40"/> <stop offset="0.520" stop-color="#ae948e"/> <stop offset="0.550" stop-color="#74463a"/> <stop offset="0.620" stop-color="#542a1f"/> <stop offset="0.930" stop-color="#3a1a13"/> <stop offset="1.000" stop-color="#240f09"/>
</linearGradient>
<linearGradient id="blk" x1="0" x2="1" y1="0" y2="0">
 <stop offset="0" stop-color="#3a1a13"/><stop offset="0.3" stop-color="#542a1f"/>
 <stop offset="0.65" stop-color="#5e3024"/><stop offset="1" stop-color="#43201a"/>
</linearGradient>
<linearGradient id="out" x1="0" x2="0" y1="0" y2="1">
 <stop offset="0" stop-color="#3a1a13"/><stop offset="0.3" stop-color="#5e3024"/>
 <stop offset="0.7" stop-color="#4a241a"/><stop offset="1" stop-color="#260f09"/>
</linearGradient>
<linearGradient id="pl" x1="0" x2="1" y1="0" y2="1">
 <stop offset="0" stop-color="#e2e2e2"/><stop offset="0.5" stop-color="#d6d6d6"/><stop offset="1" stop-color="#e6e6e6"/>
</linearGradient>
<linearGradient id="fr" x1="0" x2="1" y1="0" y2="0">
 <stop offset="0" stop-color="#dfdfd9"/><stop offset="0.12" stop-color="#ebebe5"/><stop offset="0.9" stop-color="#e6e6e0"/><stop offset="0.95" stop-color="#c6c6c0"/><stop offset="1" stop-color="#b2b2ad"/>
</linearGradient>
<linearGradient id="pn" x1="0" x2="1" y1="0" y2="1">
 <stop offset="0" stop-color="#22242c"/><stop offset="0.3" stop-color="#15171d"/><stop offset="1" stop-color="#1b1d25"/>
</linearGradient>
<linearGradient id="ch" x1="0" x2="0" y1="0" y2="1">
 <stop offset="0" stop-color="#8e8e8e"/><stop offset="0.4" stop-color="#a6a6a6"/><stop offset="1" stop-color="#bcbcbc"/>
</linearGradient>
<linearGradient id="tb" x1="0" x2="0" y1="0" y2="1">
 <stop offset="0" stop-color="#e6dcd2"/><stop offset="0.2" stop-color="#dcc5b2"/><stop offset="0.75" stop-color="#d6bba6"/><stop offset="1" stop-color="#dfc8b5"/>
</linearGradient>
<radialGradient id="bump" cx="0.45" cy="0.4" r="0.7">
 <stop offset="0" stop-color="#5e3024"/><stop offset="0.6" stop-color="#46211a"/><stop offset="1" stop-color="#2a120c"/>
</radialGradient>
<filter id="soft" x="-5%" y="-5%" width="110%" height="110%"><feGaussianBlur stdDeviation="0.5"/></filter>
</defs>
<g filter="url(#soft)">
<path d="M400 39.5H413Q417.5 41 417.5 53T413 66.5H400Z" fill="url(#out)"/>
<path d="M281.5 46Q281.5 43 296 43T310.5 46L314.5 190H288Z" fill="url(#cy1)"/>
<ellipse cx="296" cy="45.3" rx="14.3" ry="2.2" fill="#24100a"/>
<path d="M310 38Q310 35 329 35T348 38V196H316Z" fill="url(#cy)"/>
<ellipse cx="329" cy="37.6" rx="18.6" ry="2.6" fill="#24100a"/>
<path d="M347.5 29Q347.5 25 375.5 25T403.5 29V100H347.5Z" fill="url(#cy3)"/>
<ellipse cx="375.5" cy="28.6" rx="27.6" ry="3.2" fill="#24100a"/>
<ellipse cx="375.5" cy="29.6" rx="26" ry="2.2" fill="#43211a"/>
<ellipse cx="284" cy="63.5" rx="5.5" ry="6.5" fill="url(#bump)"/>
<ellipse cx="314" cy="57.5" rx="6" ry="7" fill="url(#bump)"/>
<ellipse cx="351" cy="49" rx="6.5" ry="8" fill="url(#bump)"/>
<ellipse cx="287" cy="141" rx="5.5" ry="6.5" fill="url(#bump)"/>
<ellipse cx="316" cy="144" rx="5.5" ry="6.5" fill="url(#bump)"/>
<path d="M280.5 170.5Q295 174 308.5 171V192H280.5Z" fill="url(#blk)"/>
<path d="M307.5 180Q328 184 349 179V204H307.5Z" fill="url(#blk)"/>
<path d="M275.3 188.5L345 203V246L275.3 219Z" fill="url(#ch)"/>
<path d="M275.3 188.5L345 203V205.5L275.3 191Z" fill="#8c8c8c"/>
<path d="M279.5 195.5L291 198V209L279.5 206Z" fill="#dcdcdc"/>
<path d="M308 204.5L321 207.5V220L308 216.5Z" fill="#3a3a3a"/>
<path d="M311.5 206.5L317.5 208V217.5L311.5 216Z" fill="#d8d8d8"/>
<ellipse cx="285.5" cy="214" rx="2.6" ry="3.6" fill="#d8b832"/>
<ellipse cx="296" cy="204" rx="1" ry="1.6" fill="#555"/><ellipse cx="327.5" cy="214" rx="1" ry="1.6" fill="#555"/>
<path d="M348 98H392V289L345 268.5L344 231L340 227.5L344.5 204L348 170Z" fill="url(#pl)"/>
<path d="M341 227L344.5 229.5V247L341.5 245Z" fill="#444"/>
<path d="M396.5 75.5H481.5L485 93.5H391L393.5 80Z" fill="url(#tb)"/>
<path d="M409 75.3H481.5L482 78H408.5Z" fill="#ebebe9"/>
<rect x="410" y="79" width="1" height="9" fill="#cbb09a" opacity=".7"/>
<rect x="413" y="79" width="1" height="9" fill="#cbb09a" opacity=".7"/>
<rect x="416" y="79" width="1" height="9" fill="#cbb09a" opacity=".7"/>
<rect x="419" y="79" width="1" height="9" fill="#cbb09a" opacity=".7"/>
<rect x="422" y="79" width="1" height="9" fill="#cbb09a" opacity=".7"/>
<rect x="425" y="79" width="1" height="9" fill="#cbb09a" opacity=".7"/>
<rect x="428" y="79" width="1" height="9" fill="#cbb09a" opacity=".7"/>
<rect x="431" y="79" width="1" height="9" fill="#cbb09a" opacity=".7"/>
<rect x="434" y="79" width="1" height="9" fill="#cbb09a" opacity=".7"/>
<rect x="437" y="79" width="1" height="9" fill="#cbb09a" opacity=".7"/>
<rect x="440" y="79" width="1" height="9" fill="#cbb09a" opacity=".7"/>
<rect x="443" y="79" width="1" height="9" fill="#cbb09a" opacity=".7"/>
<rect x="446" y="79" width="1" height="9" fill="#cbb09a" opacity=".7"/>
<rect x="449" y="79" width="1" height="9" fill="#cbb09a" opacity=".7"/>
<rect x="452" y="79" width="1" height="9" fill="#cbb09a" opacity=".7"/>
<rect x="455" y="79" width="1" height="9" fill="#cbb09a" opacity=".7"/>
<rect x="458" y="79" width="1" height="9" fill="#cbb09a" opacity=".7"/>
<rect x="461" y="79" width="1" height="9" fill="#cbb09a" opacity=".7"/>
<rect x="464" y="79" width="1" height="9" fill="#cbb09a" opacity=".7"/>
<rect x="467" y="79" width="1" height="9" fill="#cbb09a" opacity=".7"/>
<rect x="470" y="79" width="1" height="9" fill="#cbb09a" opacity=".7"/>
<rect x="473" y="79" width="1" height="9" fill="#cbb09a" opacity=".7"/>
<rect x="476" y="79" width="1" height="9" fill="#cbb09a" opacity=".7"/>
<rect x="479" y="79" width="1" height="9" fill="#cbb09a" opacity=".7"/>
<path d="M393.5 80L396.5 75.5H407L404.5 93.5H391Z" fill="#d2b8a4"/>
<path d="M387.5 95L516 92.5Q519.5 92.5 519.5 96V257Q519.5 259.5 517 260.2L392 293.5L387.5 289Z" fill="url(#fr)"/>
<path d="M387.5 289L392 293.5L517 260.2L514 257.5Z" fill="#d9d9d3"/>
<path d="M410.5 104.3L503 103Q509 104 510.5 118T511.5 150V256Q511.5 260 507.5 261L416 285.3Q411.5 286 411 281L408 108Q408 104.5 410.5 104.3Z" fill="url(#pn)"/>
<path d="M411 138Q460 141 509 134" stroke="#2c2f38" stroke-width="1.2" fill="none"/>
<path d="M454 166V218M480.5 164V262" stroke="#0c0d11" stroke-width="1" fill="none"/>
<rect x="434.5" y="145" width="16" height="16" rx="1" fill="#2f9b57"/><rect x="441.6" y="148" width="1.8" height="10" fill="#eef6ee"/>
<rect x="482.5" y="141.5" width="14" height="14.2" rx="1" fill="#c62130"/><circle cx="489.5" cy="148.6" r="2.6" fill="none" stroke="#fff" stroke-width="1.7"/>
<rect x="437.5" y="232" width="11" height="8.8" fill="#e8d32a"/><path d="M441.5 234h3v2.2h1.6l-3.1 3l-3.1-3h1.6z" fill="#222"/>
<rect x="484.5" y="222" width="8.5" height="8.5" rx="1" fill="#2f9b57"/><circle cx="487.6" cy="226.2" r="1.8" fill="none" stroke="#eef6ee" stroke-width="1"/>
<rect x="436" y="163" width="13" height="3.4" fill="#777b80" opacity=".7"/><rect x="486" y="157" width="7" height="3.2" fill="#777b80" opacity=".7"/>
<rect x="438.5" y="228.2" width="8" height="2" fill="#9a9a8a" opacity=".8"/><rect x="439" y="242.5" width="7.5" height="2" fill="#9a9a8a" opacity=".8"/>
<rect x="485" y="232.5" width="8" height="4.5" fill="#70747a" opacity=".6"/><rect x="486" y="203" width="6" height="2" fill="#70747a" opacity=".7"/><rect x="486.5" y="208" width="6.5" height="3.5" fill="#70747a" opacity=".7"/>
<rect x="454.8" y="218" width="11" height="35" rx="5" fill="#07080a"/>
<path d="M458.5 224L461.5 222L462.5 238L460.5 251.5L457 250L458 238Z" fill="#e4e4e4"/>
<circle cx="398" cy="245.6" r="2.6" fill="#9a9a9a"/><circle cx="398" cy="245.6" r="1.4" fill="#444"/>
<circle cx="515" cy="220.5" r="2.4" fill="#8a8a8a"/><circle cx="515" cy="220.5" r="1.2" fill="#333"/>
<circle cx="356.5" cy="109.6" r="2.3" fill="#f4f2ee" stroke="#6a5a48" stroke-width="1"/>
<circle cx="379.2" cy="109.2" r="2.3" fill="#f4f2ee" stroke="#6a5a48" stroke-width="1"/>
<circle cx="357.2" cy="134.9" r="2.3" fill="#f4f2ee" stroke="#6a5a48" stroke-width="1"/>
<circle cx="380" cy="136.4" r="2.3" fill="#f4f2ee" stroke="#6a5a48" stroke-width="1"/>
<circle cx="367.1" cy="145.5" r="2.3" fill="#f4f2ee" stroke="#6a5a48" stroke-width="1"/>
<circle cx="375.4" cy="146.3" r="2.3" fill="#f4f2ee" stroke="#6a5a48" stroke-width="1"/>
<circle cx="368" cy="163.5" r="2.3" fill="#f4f2ee" stroke="#6a5a48" stroke-width="1"/>
<circle cx="376" cy="164.5" r="2.3" fill="#f4f2ee" stroke="#6a5a48" stroke-width="1"/>
<circle cx="389" cy="242" r="2.3" fill="#f4f2ee" stroke="#6a5a48" stroke-width="1"/>
<circle cx="389" cy="250" r="2.3" fill="#f4f2ee" stroke="#6a5a48" stroke-width="1"/>
<circle cx="389" cy="264" r="2.3" fill="#f4f2ee" stroke="#6a5a48" stroke-width="1"/>
<circle cx="390.5" cy="285.5" r="2.3" fill="#f4f2ee" stroke="#6a5a48" stroke-width="1"/>
<circle cx="355.5" cy="261" r="2.3" fill="#f4f2ee" stroke="#6a5a48" stroke-width="1"/>
<circle cx="355" cy="251" r="2.3" fill="#f4f2ee" stroke="#6a5a48" stroke-width="1"/>
<circle cx="373.2" cy="213.5" r="8" fill="#1d1d1f"/><circle cx="373.2" cy="213.5" r="5" fill="#3a3a3c"/><circle cx="373.2" cy="213.5" r="2.2" fill="#111"/>
<circle cx="387.5" cy="197" r="3.4" fill="#1c1c1c"/><circle cx="379" cy="252.5" r="4.2" fill="#2a211c"/><circle cx="379" cy="252.5" r="2.2" fill="#5a4a40"/>
<circle cx="398.5" cy="246" r="0" />
<circle cx="361.5" cy="175.5" r="4.6" fill="#b89a62"/><circle cx="361.5" cy="175.5" r="2.3" fill="#5a4426"/>
<path d="M365 180L378 184.5V188L364 184Z" fill="#c4a86a"/>
<circle cx="358" cy="193.5" r="3.2" fill="#8a7a5a"/><circle cx="358.5" cy="210" r="3.6" fill="#3a332c"/>
<rect x="363.8" y="192" width="2.8" height="44" fill="#cdb36f"/><rect x="364.6" y="192" width="1" height="44" fill="#f0e2b0"/>
<path d="M347 226L356 222.5L366 231.5L363 238.5L352.5 238Z" fill="#b4a078"/><circle cx="355.5" cy="230.5" r="4.6" fill="#e2e0dc"/><circle cx="355.5" cy="230.5" r="2.4" fill="#8a8a88"/>
<rect x="345.5" y="246" width="3" height="20" fill="#c9b171"/><path d="M347 248L358 250.5V254L347 252Z" fill="#cdb36f"/>
</g></svg>
</body></html>
